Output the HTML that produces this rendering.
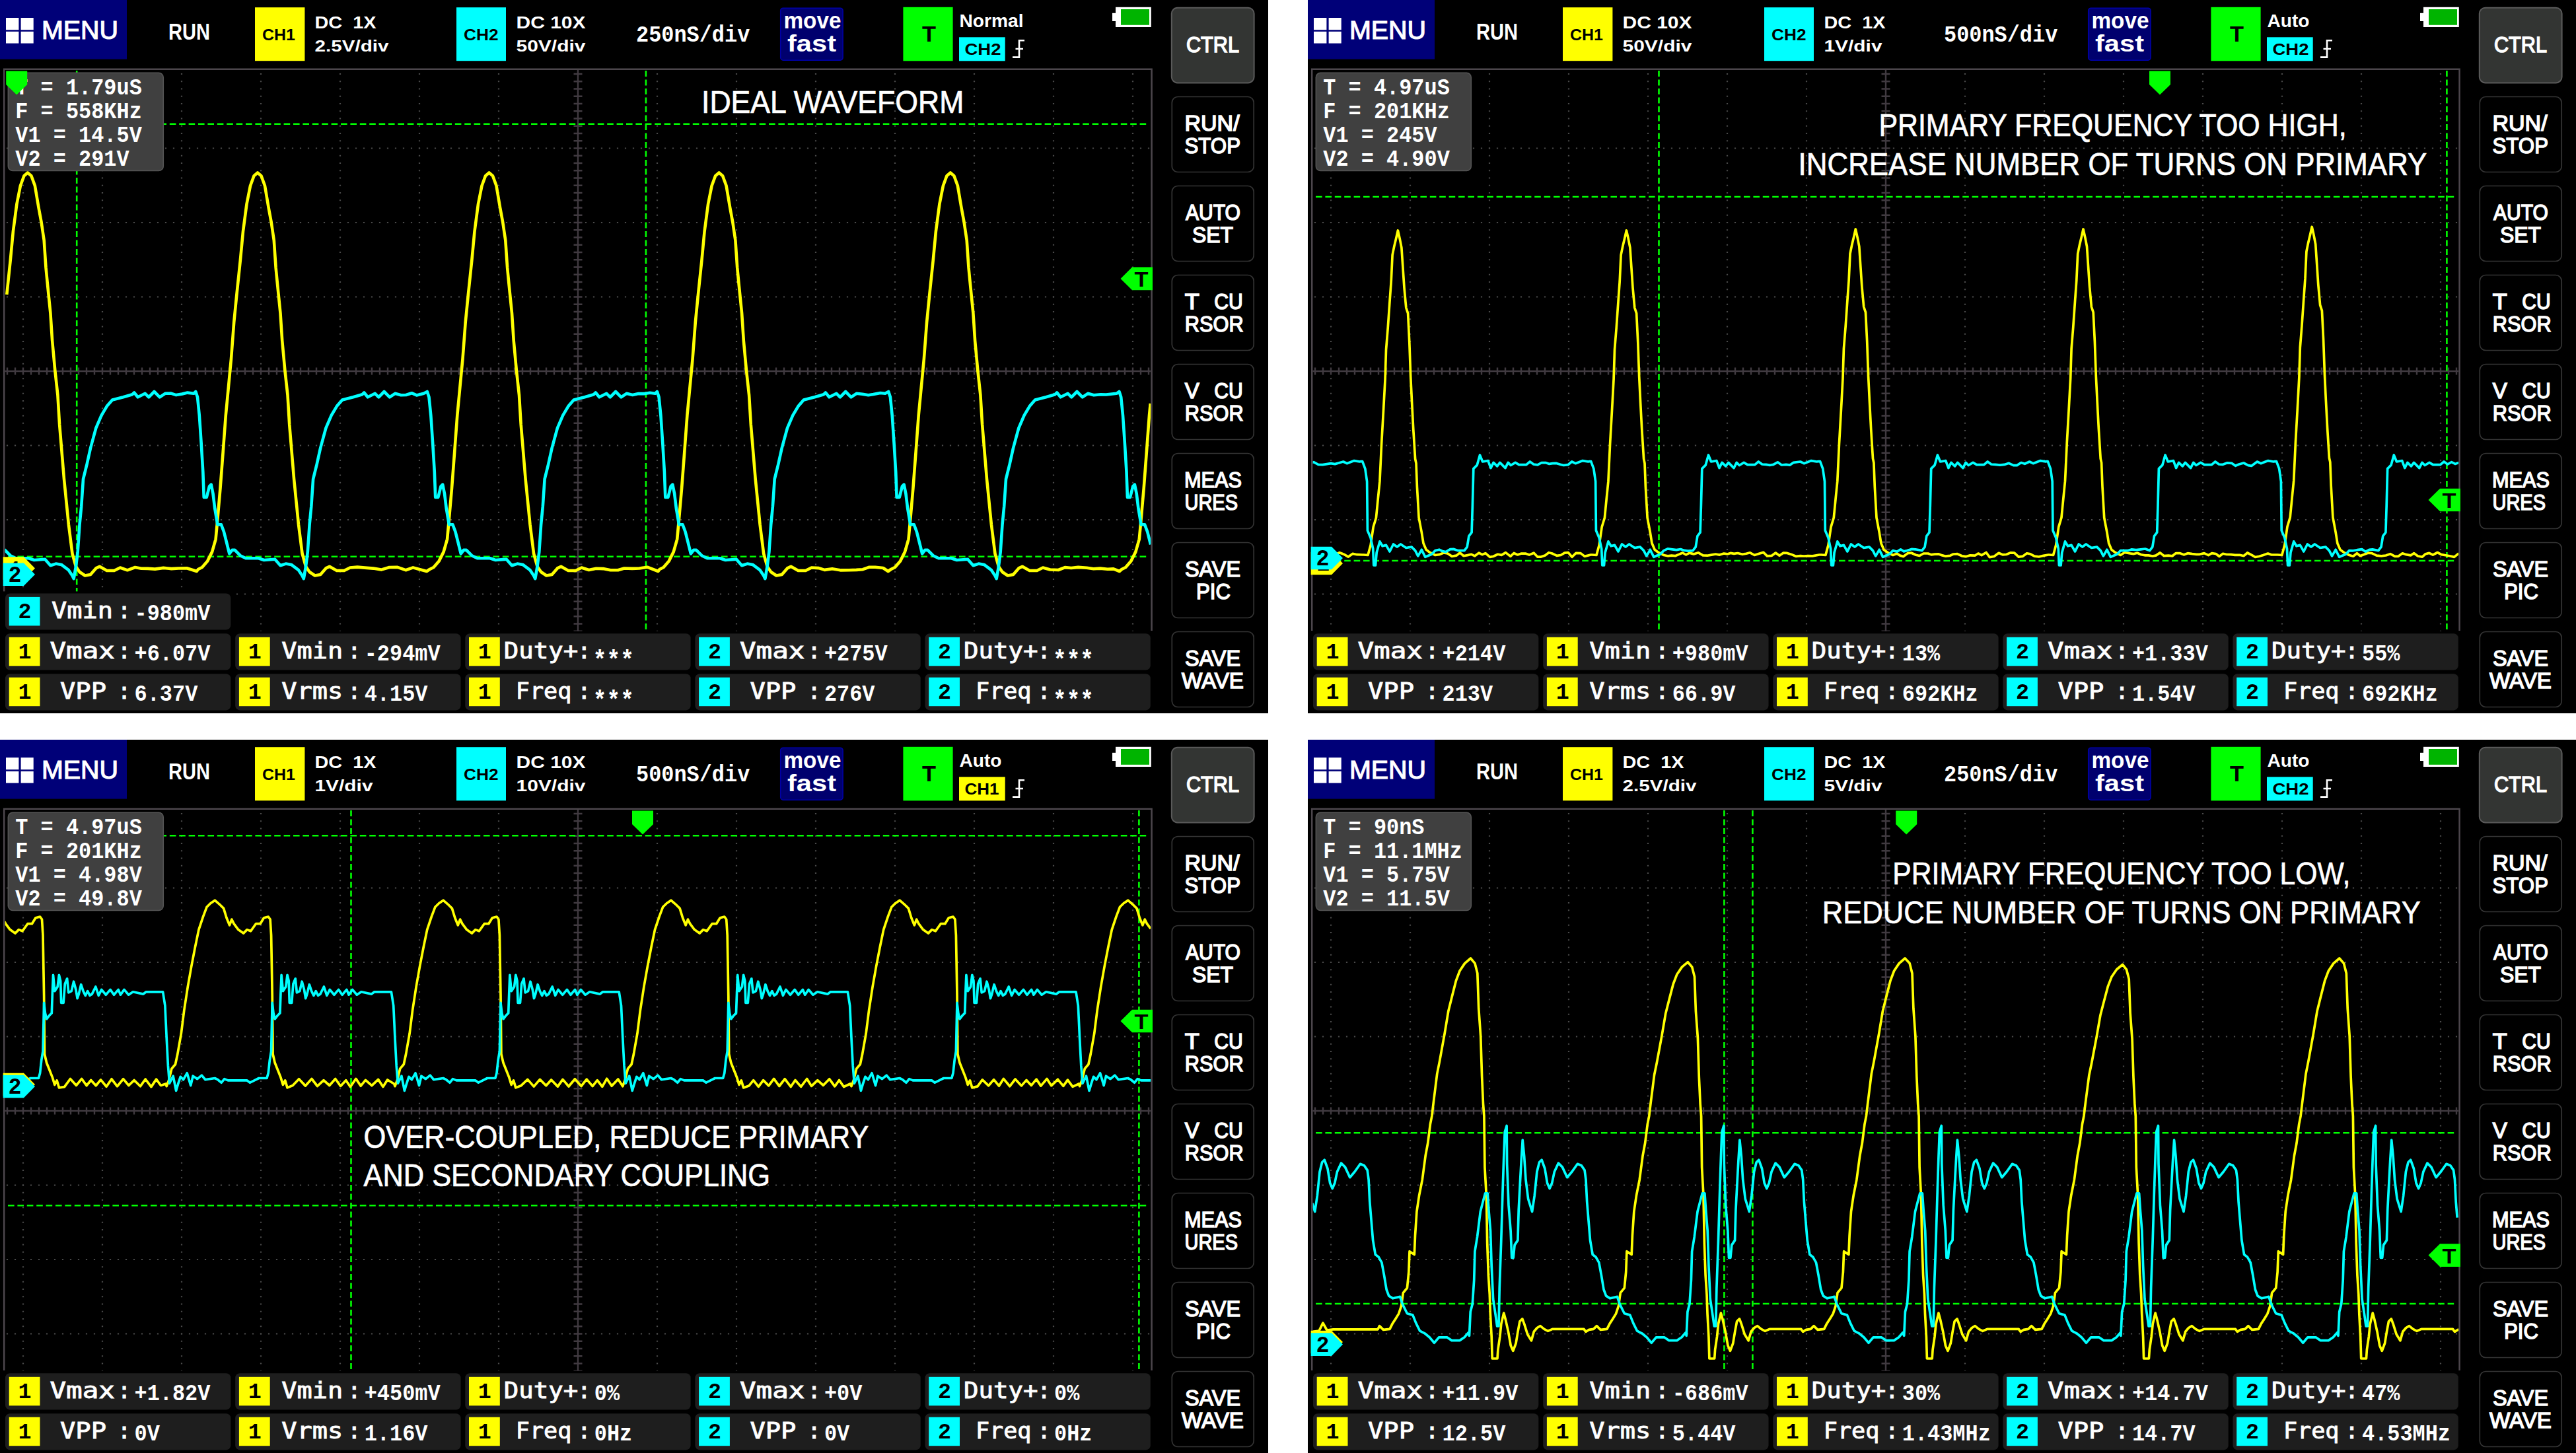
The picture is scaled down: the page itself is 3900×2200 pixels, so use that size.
<!DOCTYPE html>
<html><head><meta charset="utf-8"><title>Oscilloscope waveforms</title>
<style>html,body{margin:0;padding:0;background:#fff}svg{display:block}</style></head>
<body>
<svg width="3900" height="2200" viewBox="0 0 3900 2200">
<defs><clipPath id="plotclip"><rect x="7.4" y="105.9" width="1735" height="849.5"/></clipPath>
</defs>
<rect width="3900" height="2200" fill="#fff"/>
<g fill="#fff">
<g transform="translate(0,0)">
<rect x="0.0" y="0.0" width="1920.0" height="1080.0" fill="#000"/>
<g clip-path="url(#plotclip)">
<g><line x1="35" x2="35" y1="99.65" y2="960" stroke="#4a4a4a" stroke-width="2.2" stroke-dasharray="2.2 9.05"/><line x1="155" x2="155" y1="99.65" y2="960" stroke="#4a4a4a" stroke-width="2.2" stroke-dasharray="2.2 9.05"/><line x1="275" x2="275" y1="99.65" y2="960" stroke="#4a4a4a" stroke-width="2.2" stroke-dasharray="2.2 9.05"/><line x1="395" x2="395" y1="99.65" y2="960" stroke="#4a4a4a" stroke-width="2.2" stroke-dasharray="2.2 9.05"/><line x1="515" x2="515" y1="99.65" y2="960" stroke="#4a4a4a" stroke-width="2.2" stroke-dasharray="2.2 9.05"/><line x1="635" x2="635" y1="99.65" y2="960" stroke="#4a4a4a" stroke-width="2.2" stroke-dasharray="2.2 9.05"/><line x1="755" x2="755" y1="99.65" y2="960" stroke="#4a4a4a" stroke-width="2.2" stroke-dasharray="2.2 9.05"/><line x1="995" x2="995" y1="99.65" y2="960" stroke="#4a4a4a" stroke-width="2.2" stroke-dasharray="2.2 9.05"/><line x1="1115" x2="1115" y1="99.65" y2="960" stroke="#4a4a4a" stroke-width="2.2" stroke-dasharray="2.2 9.05"/><line x1="1235" x2="1235" y1="99.65" y2="960" stroke="#4a4a4a" stroke-width="2.2" stroke-dasharray="2.2 9.05"/><line x1="1355" x2="1355" y1="99.65" y2="960" stroke="#4a4a4a" stroke-width="2.2" stroke-dasharray="2.2 9.05"/><line x1="1475" x2="1475" y1="99.65" y2="960" stroke="#4a4a4a" stroke-width="2.2" stroke-dasharray="2.2 9.05"/><line x1="1595" x2="1595" y1="99.65" y2="960" stroke="#4a4a4a" stroke-width="2.2" stroke-dasharray="2.2 9.05"/><line x1="1715" x2="1715" y1="99.65" y2="960" stroke="#4a4a4a" stroke-width="2.2" stroke-dasharray="2.2 9.05"/><line y1="224.5" y2="224.5" x1="9.90" x2="1742" stroke="#4a4a4a" stroke-width="2.2" stroke-dasharray="2.2 9.8"/><line y1="337.0" y2="337.0" x1="9.90" x2="1742" stroke="#4a4a4a" stroke-width="2.2" stroke-dasharray="2.2 9.8"/><line y1="449.5" y2="449.5" x1="9.90" x2="1742" stroke="#4a4a4a" stroke-width="2.2" stroke-dasharray="2.2 9.8"/><line y1="674.5" y2="674.5" x1="9.90" x2="1742" stroke="#4a4a4a" stroke-width="2.2" stroke-dasharray="2.2 9.8"/><line y1="787.0" y2="787.0" x1="9.90" x2="1742" stroke="#4a4a4a" stroke-width="2.2" stroke-dasharray="2.2 9.8"/><line y1="899.5" y2="899.5" x1="9.90" x2="1742" stroke="#4a4a4a" stroke-width="2.2" stroke-dasharray="2.2 9.8"/><line x1="875" x2="875" y1="106" y2="956" stroke="#403a40" stroke-width="2.4"/><line y1="562" y2="562" x1="7" x2="1742" stroke="#403a40" stroke-width="2.4"/><line x1="875" x2="875" y1="99.55" y2="960" stroke="#403a40" stroke-width="13" stroke-dasharray="2.4 8.85"/><line y1="562" y2="562" x1="9.80" x2="1742" stroke="#403a40" stroke-width="11" stroke-dasharray="2.4 9.6"/></g>
<line x1="12" x2="1735.5" y1="187.8" y2="187.8" stroke="#00ff00" stroke-width="2.5" stroke-dasharray="9.6 4.8"/>
<line x1="12" x2="1735.5" y1="842.8" y2="842.8" stroke="#00ff00" stroke-width="2.5" stroke-dasharray="9.6 4.8"/>
<line x1="116.2" x2="116.2" y1="107" y2="956" stroke="#00ff00" stroke-width="2.6" stroke-dasharray="9 4.5"/>
<line x1="977.9" x2="977.9" y1="107" y2="956" stroke="#00ff00" stroke-width="2.6" stroke-dasharray="9 4.5"/>
<polyline points="10.5,443.8 15.7,394.4 19.9,350.3 25.4,308.9 30.9,281.3 36.4,266.2 41.9,261.5 47.4,266.2 52.9,281.3 58.5,314.4 62.6,336.5 66.7,364.0 69.5,405.4 72.2,433.0 76.4,474.3 79.1,515.6 83.3,561.0 87.4,598.3 90.1,642.7 97.0,725.4 103.9,794.3 109.5,838.4 114.9,857.7 120.5,866.0 128.7,871.5 137.0,870.0 145.3,860.4 150.8,857.7 161.8,864.0 172.9,864.0 181.9,859.5 192.9,863.3 204.5,859.0 213.9,860.8 223.8,860.9 234.7,861.6 247.4,859.9 259.5,861.1 270.3,860.5 282.8,860.3 297.9,865.0 300.0,862.0 306.0,859.0 314.2,849.4 321.1,835.6 326.6,816.3 329.4,786.0 333.5,739.2 337.7,684.0 341.8,628.9 345.9,586.0 350.0,543.2 354.2,488.0 358.3,446.7 363.8,394.4 368.0,350.3 373.5,308.9 379.0,281.3 384.5,266.2 390.0,261.5 395.5,266.2 401.0,281.3 406.6,314.4 410.7,336.5 414.8,364.0 417.6,405.4 420.3,433.0 424.5,474.3 427.2,515.6 431.4,561.0 435.5,598.3 438.2,642.7 445.1,725.4 452.0,794.3 457.6,838.4 463.0,857.7 468.6,866.0 476.8,871.5 485.1,870.0 493.4,860.4 498.9,857.7 509.9,864.0 521.0,864.0 530.0,859.5 541.0,858.6 552.4,859.6 565.2,860.6 577.1,862.6 589.4,859.0 601.2,858.7 614.2,863.2 625.3,859.4 635.8,862.3 646.0,865.0 650.5,862.0 656.5,859.0 664.7,849.4 671.6,835.6 677.1,816.3 679.9,786.0 684.0,739.2 688.2,684.0 692.3,628.9 696.4,586.0 700.5,543.2 704.7,488.0 708.8,446.7 714.3,394.4 718.5,350.3 724.0,308.9 729.5,281.3 735.0,266.2 740.5,261.5 746.0,266.2 751.5,281.3 757.1,314.4 761.2,336.5 765.3,364.0 768.1,405.4 770.8,433.0 775.0,474.3 777.7,515.6 781.9,561.0 786.0,598.3 788.7,642.7 795.6,725.4 802.5,794.3 808.1,838.4 813.5,857.7 819.1,866.0 827.3,871.5 835.6,870.0 843.9,860.4 849.4,857.7 860.4,864.0 871.5,864.0 880.5,859.5 891.5,863.0 902.6,860.8 913.1,861.1 924.3,863.3 935.6,863.2 945.0,860.5 957.0,860.9 968.0,860.5 980.0,858.7 996.5,865.0 998.6,862.0 1004.6,859.0 1012.8,849.4 1019.7,835.6 1025.2,816.3 1028.0,786.0 1032.1,739.2 1036.3,684.0 1040.4,628.9 1044.5,586.0 1048.6,543.2 1052.8,488.0 1056.9,446.7 1062.4,394.4 1066.6,350.3 1072.1,308.9 1077.6,281.3 1083.1,266.2 1088.6,261.5 1094.1,266.2 1099.6,281.3 1105.2,314.4 1109.3,336.5 1113.4,364.0 1116.2,405.4 1118.9,433.0 1123.1,474.3 1125.8,515.6 1130.0,561.0 1134.1,598.3 1136.8,642.7 1143.7,725.4 1150.6,794.3 1156.2,838.4 1161.6,857.7 1167.2,866.0 1175.4,871.5 1183.7,870.0 1192.0,860.4 1197.5,857.7 1208.5,864.0 1219.6,864.0 1228.6,859.5 1239.6,860.1 1248.4,862.9 1260.0,861.2 1273.1,863.4 1285.6,863.3 1296.5,862.9 1306.2,862.2 1315.5,858.8 1325.0,858.7 1337.1,860.0 1344.6,865.0 1348.9,862.0 1354.9,859.0 1363.1,849.4 1370.0,835.6 1375.5,816.3 1378.3,786.0 1382.4,739.2 1386.6,684.0 1390.7,628.9 1394.8,586.0 1398.9,543.2 1403.1,488.0 1407.2,446.7 1412.7,394.4 1416.9,350.3 1422.4,308.9 1427.9,281.3 1433.4,266.2 1438.9,261.5 1444.4,266.2 1449.9,281.3 1455.5,314.4 1459.6,336.5 1463.7,364.0 1466.5,405.4 1469.2,433.0 1473.4,474.3 1476.1,515.6 1480.3,561.0 1484.4,598.3 1487.1,642.7 1494.0,725.4 1500.9,794.3 1506.5,838.4 1511.9,857.7 1517.5,866.0 1525.7,871.5 1534.0,870.0 1542.3,860.4 1547.8,857.7 1558.8,864.0 1569.9,864.0 1578.9,859.5 1589.9,862.5 1602.3,863.0 1612.3,859.1 1621.9,860.0 1632.3,858.9 1645.4,859.7 1655.6,861.2 1665.6,860.6 1676.8,861.8 1685.8,861.4 1694.9,865.0 1698.2,862.0 1704.2,859.0 1712.4,849.4 1719.3,835.6 1724.8,816.3 1727.6,786.0 1731.7,739.2 1735.9,684.0 1740.0,628.9 1741.5,613.2" fill="none" stroke="#ffff00" stroke-width="4.6" stroke-linejoin="round" stroke-linecap="square"/><polyline points="8.3,833.7 15.7,841.2 24.0,845.3 43.3,845.3 51.6,848.0 68.1,846.7 76.4,856.3 84.6,853.6 92.9,854.9 103.9,863.2 109.4,871.5 111.7,876.2 114.9,857.7 117.7,835.6 120.5,794.3 123.2,766.7 126.0,725.4 131.5,703.3 137.0,678.5 145.3,648.2 153.6,628.9 161.8,615.1 170.1,605.5 186.6,601.3 200.4,597.2 203.2,594.5 208.7,601.3 219.7,595.8 225.2,601.3 233.5,593.0 241.8,601.3 250.0,595.8 259.0,595.6 266.7,598.1 275.9,596.5 283.8,594.6 293.4,595.8 296.3,593.0 299.0,601.3 301.8,628.9 304.6,670.2 307.3,714.4 308.7,753.0 312.8,753.0 317.0,736.4 319.7,733.6 322.5,747.4 325.2,769.5 329.4,794.3 334.9,794.3 339.0,805.3 343.2,821.9 347.3,838.4 351.4,832.9 355.6,832.9 363.8,841.2 372.1,845.3 391.4,845.3 399.7,848.0 416.2,846.7 424.5,856.3 432.7,853.6 441.0,854.9 452.0,863.2 457.5,871.5 459.8,876.2 463.0,857.7 465.8,835.6 468.6,794.3 471.3,766.7 474.1,725.4 479.6,703.3 485.1,678.5 493.4,648.2 501.7,628.9 509.9,615.1 518.2,605.5 534.7,601.3 548.5,597.2 551.3,594.5 556.8,601.3 567.8,595.8 573.3,601.3 581.6,593.0 589.9,601.3 598.1,595.8 607.1,598.2 614.7,598.0 623.3,595.2 630.7,598.4 641.5,595.8 646.8,593.0 649.5,601.3 652.3,628.9 655.1,670.2 657.8,714.4 659.2,753.0 663.3,753.0 667.5,736.4 670.2,733.6 673.0,747.4 675.7,769.5 679.9,794.3 685.4,794.3 689.5,805.3 693.7,821.9 697.8,838.4 701.9,832.9 706.1,832.9 714.3,841.2 722.6,845.3 741.9,845.3 750.2,848.0 766.7,846.7 775.0,856.3 783.2,853.6 791.5,854.9 802.5,863.2 808.0,871.5 810.3,876.2 813.5,857.7 816.3,835.6 819.1,794.3 821.8,766.7 824.6,725.4 830.1,703.3 835.6,678.5 843.9,648.2 852.2,628.9 860.4,615.1 868.7,605.5 885.2,601.3 899.0,597.2 901.8,594.5 907.3,601.3 918.3,595.8 923.8,601.3 932.1,593.0 940.4,601.3 948.6,595.8 957.6,597.9 966.6,596.0 975.9,596.1 983.9,594.7 992.0,595.8 994.9,593.0 997.6,601.3 1000.4,628.9 1003.2,670.2 1005.9,714.4 1007.3,753.0 1011.4,753.0 1015.6,736.4 1018.3,733.6 1021.1,747.4 1023.8,769.5 1028.0,794.3 1033.5,794.3 1037.6,805.3 1041.8,821.9 1045.9,838.4 1050.0,832.9 1054.2,832.9 1062.4,841.2 1070.7,845.3 1090.0,845.3 1098.3,848.0 1114.8,846.7 1123.1,856.3 1131.3,853.6 1139.6,854.9 1150.6,863.2 1156.1,871.5 1158.4,876.2 1161.6,857.7 1164.4,835.6 1167.2,794.3 1169.9,766.7 1172.7,725.4 1178.2,703.3 1183.7,678.5 1192.0,648.2 1200.3,628.9 1208.5,615.1 1216.8,605.5 1233.3,601.3 1247.1,597.2 1249.9,594.5 1255.4,601.3 1266.4,595.8 1271.9,601.3 1280.2,593.0 1288.5,601.3 1296.7,595.8 1305.7,596.7 1314.6,598.3 1322.4,597.0 1332.8,595.0 1340.1,595.8 1345.2,593.0 1347.9,601.3 1350.7,628.9 1353.5,670.2 1356.2,714.4 1357.6,753.0 1361.7,753.0 1365.9,736.4 1368.6,733.6 1371.4,747.4 1374.1,769.5 1378.3,794.3 1383.8,794.3 1387.9,805.3 1392.1,821.9 1396.2,838.4 1400.3,832.9 1404.5,832.9 1412.7,841.2 1421.0,845.3 1440.3,845.3 1448.6,848.0 1465.1,846.7 1473.4,856.3 1481.6,853.6 1489.9,854.9 1500.9,863.2 1506.4,871.5 1508.7,876.2 1511.9,857.7 1514.7,835.6 1517.5,794.3 1520.2,766.7 1523.0,725.4 1528.5,703.3 1534.0,678.5 1542.3,648.2 1550.6,628.9 1558.8,615.1 1567.1,605.5 1583.6,601.3 1597.4,597.2 1600.2,594.5 1605.7,601.3 1616.7,595.8 1622.2,601.3 1630.5,593.0 1638.8,601.3 1647.0,595.8 1656.0,598.3 1666.3,597.2 1674.6,597.5 1690.4,595.8 1694.5,593.0 1697.2,601.3 1700.0,628.9 1702.8,670.2 1705.5,714.4 1706.9,753.0 1711.0,753.0 1715.2,736.4 1717.9,733.6 1720.7,747.4 1723.4,769.5 1727.6,794.3 1733.1,794.3 1737.2,805.3 1741.4,821.9 1741.5,822.3" fill="none" stroke="#00ffff" stroke-width="4.6" stroke-linejoin="round" stroke-linecap="square"/>
</g>
<path d="M6.2,955 V104.7 H1743.6 V955" fill="none" stroke="#4c464c" stroke-width="2.5"/>
<path d="M4.7,843.2 H36 L53,860.5 L36,877.8 H4.7 Z" fill="#ffff00"/>
<text x="13.0" y="871.5" font-family="'Liberation Mono', monospace" font-size="33.40" font-weight="bold" fill="#000" xml:space="preserve">1</text>
<path d="M4.7,852.5 H36 L53,869.8 L36,887.0999999999999 H4.7 Z" fill="#00ffff"/>
<text x="12.5" y="880.8" font-family="'Liberation Mono', monospace" font-size="34.16" font-weight="bold" fill="#000" textLength="20.0" lengthAdjust="spacingAndGlyphs" xml:space="preserve">2</text>
<path d="M1745,404.59999999999997 H1714 L1696.5,421.9 L1714,439.2 H1745 Z" fill="#00ff00"/>
<text x="1717.5" y="433.9" font-family="'Liberation Sans', sans-serif" font-size="32.27" font-weight="bold" fill="#000" textLength="21.0" lengthAdjust="spacingAndGlyphs" xml:space="preserve">T</text>
<rect x="12.3" y="110.3" width="235.0" height="148.3" fill="#404040" rx="7" stroke="#555" stroke-width="1.5"/>
<text x="23.3" y="142.5" font-family="'Liberation Mono', monospace" font-size="34.92" font-weight="bold" textLength="191.5" lengthAdjust="spacingAndGlyphs" xml:space="preserve">T = 1.79uS</text>
<text x="23.3" y="178.5" font-family="'Liberation Mono', monospace" font-size="34.92" font-weight="bold" textLength="191.5" lengthAdjust="spacingAndGlyphs" xml:space="preserve">F = 558KHz</text>
<text x="23.3" y="214.5" font-family="'Liberation Mono', monospace" font-size="34.92" font-weight="bold" textLength="191.5" lengthAdjust="spacingAndGlyphs" xml:space="preserve">V1 = 14.5V</text>
<text x="23.3" y="250.5" font-family="'Liberation Mono', monospace" font-size="34.92" font-weight="bold" textLength="172.3" lengthAdjust="spacingAndGlyphs" xml:space="preserve">V2 = 291V</text>
<path d="M9.2,107.5 H41.2 V128 L25.2,143.6 L9.2,128 Z" fill="#00ff00"/>
<text x="1062.0" y="171.2" font-family="'Liberation Sans', sans-serif" font-size="47.38" textLength="397.4" lengthAdjust="spacingAndGlyphs" stroke="#fff" stroke-width="0.7" xml:space="preserve">IDEAL WAVEFORM</text>
<rect x="0.0" y="0.0" width="192.0" height="89.6" fill="#000078"/>
<rect x="9.0" y="27.0" width="19.4" height="18.2" fill="#fff"/>
<rect x="9.0" y="47.8" width="19.4" height="17.8" fill="#fff"/>
<rect x="31.6" y="27.0" width="19.1" height="18.2" fill="#fff"/>
<rect x="31.6" y="47.8" width="19.1" height="17.8" fill="#fff"/>
<text x="63.0" y="58.7" font-family="'Liberation Sans', sans-serif" font-size="39.24" textLength="116.0" lengthAdjust="spacingAndGlyphs" stroke="#fff" stroke-width="1.2" xml:space="preserve">MENU</text>
<text x="255.0" y="60.3" font-family="'Liberation Sans', sans-serif" font-size="34.88" font-weight="bold" textLength="63.0" lengthAdjust="spacingAndGlyphs" xml:space="preserve">RUN</text>
<rect x="386.0" y="11.2" width="75.4" height="81.0" fill="#ffff00"/>
<text x="397.0" y="60.5" font-family="'Liberation Sans', sans-serif" font-size="24.27" font-weight="bold" fill="#000" textLength="50.0" lengthAdjust="spacingAndGlyphs" xml:space="preserve">CH1</text>
<text x="476.5" y="43.0" font-family="'Liberation Sans', sans-serif" font-size="26.16" font-weight="bold" textLength="93.0" lengthAdjust="spacingAndGlyphs" xml:space="preserve">DC  1X</text>
<text x="476.5" y="78.3" font-family="'Liberation Sans', sans-serif" font-size="24.42" font-weight="bold" textLength="112.0" lengthAdjust="spacingAndGlyphs" xml:space="preserve">2.5V/div</text>
<rect x="691.0" y="11.2" width="75.0" height="81.0" fill="#00ffff"/>
<text x="702.0" y="60.5" font-family="'Liberation Sans', sans-serif" font-size="24.27" font-weight="bold" fill="#000" textLength="52.5" lengthAdjust="spacingAndGlyphs" xml:space="preserve">CH2</text>
<text x="781.5" y="43.0" font-family="'Liberation Sans', sans-serif" font-size="26.16" font-weight="bold" textLength="105.0" lengthAdjust="spacingAndGlyphs" xml:space="preserve">DC 10X</text>
<text x="781.5" y="78.3" font-family="'Liberation Sans', sans-serif" font-size="24.42" font-weight="bold" textLength="105.0" lengthAdjust="spacingAndGlyphs" xml:space="preserve">50V/div</text>
<text x="963.0" y="63.0" font-family="'Liberation Mono', monospace" font-size="34.92" font-weight="bold" textLength="172.3" lengthAdjust="spacingAndGlyphs" xml:space="preserve">250nS/div</text>
<rect x="1181.7" y="12.2" width="94.4" height="79.0" fill="#00006e" rx="4" stroke="#0000a8" stroke-width="1.5"/>
<text x="1186.5" y="43.0" font-family="'Liberation Sans', sans-serif" font-size="34.30" font-weight="bold" textLength="87.0" lengthAdjust="spacingAndGlyphs" xml:space="preserve">move</text>
<text x="1192.0" y="78.0" font-family="'Liberation Sans', sans-serif" font-size="34.30" font-weight="bold" textLength="74.0" lengthAdjust="spacingAndGlyphs" xml:space="preserve">fast</text>
<rect x="1367.4" y="10.8" width="75.2" height="81.5" fill="#00ff00"/>
<text x="1396.0" y="63.0" font-family="'Liberation Sans', sans-serif" font-size="32.70" font-weight="bold" fill="#000" textLength="21.0" lengthAdjust="spacingAndGlyphs" xml:space="preserve">T</text>
<text x="1452.5" y="41.0" font-family="'Liberation Sans', sans-serif" font-size="28.49" font-weight="bold" textLength="97.0" lengthAdjust="spacingAndGlyphs" xml:space="preserve">Normal</text>
<rect x="1452.0" y="56.3" width="69.7" height="36.0" fill="#00ffff"/>
<text x="1460.5" y="83.4" font-family="'Liberation Sans', sans-serif" font-size="24.71" font-weight="bold" fill="#000" textLength="55.0" lengthAdjust="spacingAndGlyphs" xml:space="preserve">CH2</text>
<path d="M1551,61.2 H1543 V86.6 H1533 M1537.5,74 H1549" fill="none" stroke="#fff" stroke-width="2.6"/>
<rect x="1684.0" y="19.8" width="6.0" height="12.2" fill="#fff"/>
<rect x="1689.0" y="10.8" width="53.8" height="30.2" fill="#fff"/>
<rect x="1697.0" y="14.0" width="43.0" height="23.8" fill="#00b400"/>
<rect x="1773.8" y="11.7" width="124.8" height="113.7" fill="#333533" rx="9" stroke="#5a5a5a" stroke-width="2"/>
<text x="1796.0" y="78.8" font-family="'Liberation Sans', sans-serif" font-size="32.70" textLength="80.0" lengthAdjust="spacingAndGlyphs" stroke="#fff" stroke-width="1.5" xml:space="preserve">CTRL</text>
<rect x="1774.3" y="146.5" width="123.9" height="114.0" fill="#000" rx="9" stroke="#343434" stroke-width="1.7"/>
<text x="1793.5" y="198.0" font-family="'Liberation Sans', sans-serif" font-size="32.70" textLength="83.1" lengthAdjust="spacingAndGlyphs" stroke="#fff" stroke-width="1.5" xml:space="preserve">RUN/</text>
<text x="1793.5" y="231.5" font-family="'Liberation Sans', sans-serif" font-size="32.70" textLength="84.5" lengthAdjust="spacingAndGlyphs" stroke="#fff" stroke-width="1.5" xml:space="preserve">STOP</text>
<rect x="1774.3" y="281.5" width="123.9" height="114.0" fill="#000" rx="9" stroke="#343434" stroke-width="1.7"/>
<text x="1795.0" y="333.0" font-family="'Liberation Sans', sans-serif" font-size="32.70" textLength="83.0" lengthAdjust="spacingAndGlyphs" stroke="#fff" stroke-width="1.5" xml:space="preserve">AUTO</text>
<text x="1805.0" y="366.5" font-family="'Liberation Sans', sans-serif" font-size="32.70" textLength="62.0" lengthAdjust="spacingAndGlyphs" stroke="#fff" stroke-width="1.5" xml:space="preserve">SET</text>
<rect x="1774.3" y="416.5" width="123.9" height="114.0" fill="#000" rx="9" stroke="#343434" stroke-width="1.7"/>
<text y="468.0" font-family="'Liberation Sans', sans-serif" font-size="32.70" stroke="#fff" stroke-width="1.5" xml:space="preserve"><tspan x="1793.8" textLength="22" lengthAdjust="spacingAndGlyphs">T</tspan><tspan x="1831" textLength="6" lengthAdjust="spacingAndGlyphs">  </tspan><tspan x="1838.3" textLength="43.5" lengthAdjust="spacingAndGlyphs">CU</tspan></text>
<text x="1793.8" y="501.5" font-family="'Liberation Sans', sans-serif" font-size="32.70" textLength="88.8" lengthAdjust="spacingAndGlyphs" stroke="#fff" stroke-width="1.5" xml:space="preserve">RSOR</text>
<rect x="1774.3" y="551.5" width="123.9" height="114.0" fill="#000" rx="9" stroke="#343434" stroke-width="1.7"/>
<text y="603.0" font-family="'Liberation Sans', sans-serif" font-size="32.70" stroke="#fff" stroke-width="1.5" xml:space="preserve"><tspan x="1793.8" textLength="22" lengthAdjust="spacingAndGlyphs">V</tspan><tspan x="1831" textLength="6" lengthAdjust="spacingAndGlyphs">  </tspan><tspan x="1838.3" textLength="43.5" lengthAdjust="spacingAndGlyphs">CU</tspan></text>
<text x="1793.8" y="636.5" font-family="'Liberation Sans', sans-serif" font-size="32.70" textLength="88.8" lengthAdjust="spacingAndGlyphs" stroke="#fff" stroke-width="1.5" xml:space="preserve">RSOR</text>
<rect x="1774.3" y="686.5" width="123.9" height="114.0" fill="#000" rx="9" stroke="#343434" stroke-width="1.7"/>
<text x="1793.0" y="738.0" font-family="'Liberation Sans', sans-serif" font-size="32.70" textLength="87.0" lengthAdjust="spacingAndGlyphs" stroke="#fff" stroke-width="1.5" xml:space="preserve">MEAS</text>
<text x="1793.5" y="771.5" font-family="'Liberation Sans', sans-serif" font-size="32.70" textLength="80.5" lengthAdjust="spacingAndGlyphs" stroke="#fff" stroke-width="1.5" xml:space="preserve">URES</text>
<rect x="1774.3" y="821.5" width="123.9" height="114.0" fill="#000" rx="9" stroke="#343434" stroke-width="1.7"/>
<text x="1794.0" y="873.0" font-family="'Liberation Sans', sans-serif" font-size="32.70" textLength="84.0" lengthAdjust="spacingAndGlyphs" stroke="#fff" stroke-width="1.5" xml:space="preserve">SAVE</text>
<text x="1811.0" y="906.5" font-family="'Liberation Sans', sans-serif" font-size="32.70" textLength="52.0" lengthAdjust="spacingAndGlyphs" stroke="#fff" stroke-width="1.5" xml:space="preserve">PIC</text>
<rect x="1774.3" y="956.5" width="123.9" height="114.0" fill="#000" rx="9" stroke="#343434" stroke-width="1.7"/>
<text x="1794.0" y="1008.0" font-family="'Liberation Sans', sans-serif" font-size="32.70" textLength="84.0" lengthAdjust="spacingAndGlyphs" stroke="#fff" stroke-width="1.5" xml:space="preserve">SAVE</text>
<text x="1789.0" y="1041.5" font-family="'Liberation Sans', sans-serif" font-size="32.70" textLength="94.0" lengthAdjust="spacingAndGlyphs" stroke="#fff" stroke-width="1.5" xml:space="preserve">WAVE</text>
<rect x="0.0" y="895.4" width="356.0" height="63.0" fill="#000"/>
<rect x="8.0" y="898.4" width="341.3" height="55.2" fill="#1e1e1e" rx="7"/>
<rect x="13.7" y="903.9" width="46.8" height="43.5" fill="#00ffff"/>
<text x="27.5" y="936.2" font-family="'Liberation Mono', monospace" font-size="33.40" font-weight="bold" fill="#000" textLength="20.0" lengthAdjust="spacingAndGlyphs" xml:space="preserve">2</text>
<text y="936.4" font-family="'DejaVu Sans Mono', 'Liberation Mono', monospace" font-size="34.29" stroke="#fff" stroke-width="0.9" xml:space="preserve"><tspan x="78.0" textLength="93.0" lengthAdjust="spacingAndGlyphs">Vmin</tspan><tspan x="177.8">:</tspan></text>
<text x="203.5" y="938.7" font-family="'Liberation Mono', monospace" font-size="34.92" font-weight="bold" textLength="114.9" lengthAdjust="spacingAndGlyphs" xml:space="preserve">-980mV</text>
<rect x="8.0" y="959.3" width="341.3" height="55.2" fill="#1e1e1e" rx="7"/>
<rect x="13.7" y="964.8" width="46.8" height="43.5" fill="#ffff00"/>
<text x="27.5" y="997.1" font-family="'Liberation Mono', monospace" font-size="33.40" font-weight="bold" fill="#000" textLength="20.0" lengthAdjust="spacingAndGlyphs" xml:space="preserve">1</text>
<text y="997.3" font-family="'DejaVu Sans Mono', 'Liberation Mono', monospace" font-size="34.29" stroke="#fff" stroke-width="0.9" xml:space="preserve"><tspan x="75.5" textLength="98.5" lengthAdjust="spacingAndGlyphs">Vmax</tspan><tspan x="177.8">:</tspan></text>
<text x="203.5" y="999.6" font-family="'Liberation Mono', monospace" font-size="34.92" font-weight="bold" textLength="114.9" lengthAdjust="spacingAndGlyphs" xml:space="preserve">+6.07V</text>
<rect x="8.0" y="1020.2" width="341.3" height="55.2" fill="#1e1e1e" rx="7"/>
<rect x="13.7" y="1025.7" width="46.8" height="43.5" fill="#ffff00"/>
<text x="27.5" y="1058.0" font-family="'Liberation Mono', monospace" font-size="33.40" font-weight="bold" fill="#000" textLength="20.0" lengthAdjust="spacingAndGlyphs" xml:space="preserve">1</text>
<text y="1058.2" font-family="'DejaVu Sans Mono', 'Liberation Mono', monospace" font-size="34.29" stroke="#fff" stroke-width="0.9" xml:space="preserve"><tspan x="91.0" textLength="70.0" lengthAdjust="spacingAndGlyphs">VPP</tspan><tspan x="171.0" textLength="6.8" lengthAdjust="spacingAndGlyphs"> </tspan><tspan x="177.8">:</tspan></text>
<text x="203.5" y="1060.5" font-family="'Liberation Mono', monospace" font-size="34.92" font-weight="bold" textLength="95.8" lengthAdjust="spacingAndGlyphs" xml:space="preserve">6.37V</text>
<rect x="356.2" y="959.3" width="341.3" height="55.2" fill="#1e1e1e" rx="7"/>
<rect x="361.9" y="964.8" width="46.8" height="43.5" fill="#ffff00"/>
<text x="375.7" y="997.1" font-family="'Liberation Mono', monospace" font-size="33.40" font-weight="bold" fill="#000" textLength="20.0" lengthAdjust="spacingAndGlyphs" xml:space="preserve">1</text>
<text y="997.3" font-family="'DejaVu Sans Mono', 'Liberation Mono', monospace" font-size="34.29" stroke="#fff" stroke-width="0.9" xml:space="preserve"><tspan x="426.2" textLength="93.0" lengthAdjust="spacingAndGlyphs">Vmin</tspan><tspan x="526.0">:</tspan></text>
<text x="551.7" y="999.6" font-family="'Liberation Mono', monospace" font-size="34.92" font-weight="bold" textLength="114.9" lengthAdjust="spacingAndGlyphs" xml:space="preserve">-294mV</text>
<rect x="356.2" y="1020.2" width="341.3" height="55.2" fill="#1e1e1e" rx="7"/>
<rect x="361.9" y="1025.7" width="46.8" height="43.5" fill="#ffff00"/>
<text x="375.7" y="1058.0" font-family="'Liberation Mono', monospace" font-size="33.40" font-weight="bold" fill="#000" textLength="20.0" lengthAdjust="spacingAndGlyphs" xml:space="preserve">1</text>
<text y="1058.2" font-family="'DejaVu Sans Mono', 'Liberation Mono', monospace" font-size="34.29" stroke="#fff" stroke-width="0.9" xml:space="preserve"><tspan x="426.2" textLength="93.0" lengthAdjust="spacingAndGlyphs">Vrms</tspan><tspan x="526.0">:</tspan></text>
<text x="551.7" y="1060.5" font-family="'Liberation Mono', monospace" font-size="34.92" font-weight="bold" textLength="95.8" lengthAdjust="spacingAndGlyphs" xml:space="preserve">4.15V</text>
<rect x="704.3" y="959.3" width="341.3" height="55.2" fill="#1e1e1e" rx="7"/>
<rect x="710.0" y="964.8" width="46.8" height="43.5" fill="#ffff00"/>
<text x="723.8" y="997.1" font-family="'Liberation Mono', monospace" font-size="33.40" font-weight="bold" fill="#000" textLength="20.0" lengthAdjust="spacingAndGlyphs" xml:space="preserve">1</text>
<text y="997.3" font-family="'DejaVu Sans Mono', 'Liberation Mono', monospace" font-size="34.29" stroke="#fff" stroke-width="0.9" xml:space="preserve"><tspan x="762.8" textLength="112.5" lengthAdjust="spacingAndGlyphs">Duty+</tspan><tspan x="874.1">:</tspan></text>
<text x="897.8" y="1010.8" font-family="'Liberation Mono', monospace" font-size="39.47" font-weight="bold" textLength="62.0" lengthAdjust="spacingAndGlyphs" xml:space="preserve">***</text>
<rect x="704.3" y="1020.2" width="341.3" height="55.2" fill="#1e1e1e" rx="7"/>
<rect x="710.0" y="1025.7" width="46.8" height="43.5" fill="#ffff00"/>
<text x="723.8" y="1058.0" font-family="'Liberation Mono', monospace" font-size="33.40" font-weight="bold" fill="#000" textLength="20.0" lengthAdjust="spacingAndGlyphs" xml:space="preserve">1</text>
<text y="1058.2" font-family="'DejaVu Sans Mono', 'Liberation Mono', monospace" font-size="34.29" stroke="#fff" stroke-width="0.9" xml:space="preserve"><tspan x="780.8" textLength="84.5" lengthAdjust="spacingAndGlyphs">Freq</tspan><tspan x="874.1">:</tspan></text>
<text x="897.8" y="1071.7" font-family="'Liberation Mono', monospace" font-size="39.47" font-weight="bold" textLength="62.0" lengthAdjust="spacingAndGlyphs" xml:space="preserve">***</text>
<rect x="1052.4" y="959.3" width="341.3" height="55.2" fill="#1e1e1e" rx="7"/>
<rect x="1058.1" y="964.8" width="46.8" height="43.5" fill="#00ffff"/>
<text x="1071.9" y="997.1" font-family="'Liberation Mono', monospace" font-size="33.40" font-weight="bold" fill="#000" textLength="20.0" lengthAdjust="spacingAndGlyphs" xml:space="preserve">2</text>
<text y="997.3" font-family="'DejaVu Sans Mono', 'Liberation Mono', monospace" font-size="34.29" stroke="#fff" stroke-width="0.9" xml:space="preserve"><tspan x="1119.9" textLength="98.5" lengthAdjust="spacingAndGlyphs">Vmax</tspan><tspan x="1222.2">:</tspan></text>
<text x="1247.9" y="999.6" font-family="'Liberation Mono', monospace" font-size="34.92" font-weight="bold" textLength="95.8" lengthAdjust="spacingAndGlyphs" xml:space="preserve">+275V</text>
<rect x="1052.4" y="1020.2" width="341.3" height="55.2" fill="#1e1e1e" rx="7"/>
<rect x="1058.1" y="1025.7" width="46.8" height="43.5" fill="#00ffff"/>
<text x="1071.9" y="1058.0" font-family="'Liberation Mono', monospace" font-size="33.40" font-weight="bold" fill="#000" textLength="20.0" lengthAdjust="spacingAndGlyphs" xml:space="preserve">2</text>
<text y="1058.2" font-family="'DejaVu Sans Mono', 'Liberation Mono', monospace" font-size="34.29" stroke="#fff" stroke-width="0.9" xml:space="preserve"><tspan x="1135.4" textLength="70.0" lengthAdjust="spacingAndGlyphs">VPP</tspan><tspan x="1215.4" textLength="6.8" lengthAdjust="spacingAndGlyphs"> </tspan><tspan x="1222.2">:</tspan></text>
<text x="1247.9" y="1060.5" font-family="'Liberation Mono', monospace" font-size="34.92" font-weight="bold" textLength="76.6" lengthAdjust="spacingAndGlyphs" xml:space="preserve">276V</text>
<rect x="1400.5" y="959.3" width="341.3" height="55.2" fill="#1e1e1e" rx="7"/>
<rect x="1406.2" y="964.8" width="46.8" height="43.5" fill="#00ffff"/>
<text x="1420.0" y="997.1" font-family="'Liberation Mono', monospace" font-size="33.40" font-weight="bold" fill="#000" textLength="20.0" lengthAdjust="spacingAndGlyphs" xml:space="preserve">2</text>
<text y="997.3" font-family="'DejaVu Sans Mono', 'Liberation Mono', monospace" font-size="34.29" stroke="#fff" stroke-width="0.9" xml:space="preserve"><tspan x="1459.0" textLength="112.5" lengthAdjust="spacingAndGlyphs">Duty+</tspan><tspan x="1570.3">:</tspan></text>
<text x="1594.0" y="1010.8" font-family="'Liberation Mono', monospace" font-size="39.47" font-weight="bold" textLength="62.0" lengthAdjust="spacingAndGlyphs" xml:space="preserve">***</text>
<rect x="1400.5" y="1020.2" width="341.3" height="55.2" fill="#1e1e1e" rx="7"/>
<rect x="1406.2" y="1025.7" width="46.8" height="43.5" fill="#00ffff"/>
<text x="1420.0" y="1058.0" font-family="'Liberation Mono', monospace" font-size="33.40" font-weight="bold" fill="#000" textLength="20.0" lengthAdjust="spacingAndGlyphs" xml:space="preserve">2</text>
<text y="1058.2" font-family="'DejaVu Sans Mono', 'Liberation Mono', monospace" font-size="34.29" stroke="#fff" stroke-width="0.9" xml:space="preserve"><tspan x="1477.0" textLength="84.5" lengthAdjust="spacingAndGlyphs">Freq</tspan><tspan x="1570.3">:</tspan></text>
<text x="1594.0" y="1071.7" font-family="'Liberation Mono', monospace" font-size="39.47" font-weight="bold" textLength="62.0" lengthAdjust="spacingAndGlyphs" xml:space="preserve">***</text>
</g>
<g transform="translate(1980,0)">
<rect x="0.0" y="0.0" width="1920.0" height="1080.0" fill="#000"/>
<g clip-path="url(#plotclip)">
<g><line x1="35" x2="35" y1="99.65" y2="960" stroke="#4a4a4a" stroke-width="2.2" stroke-dasharray="2.2 9.05"/><line x1="155" x2="155" y1="99.65" y2="960" stroke="#4a4a4a" stroke-width="2.2" stroke-dasharray="2.2 9.05"/><line x1="275" x2="275" y1="99.65" y2="960" stroke="#4a4a4a" stroke-width="2.2" stroke-dasharray="2.2 9.05"/><line x1="395" x2="395" y1="99.65" y2="960" stroke="#4a4a4a" stroke-width="2.2" stroke-dasharray="2.2 9.05"/><line x1="515" x2="515" y1="99.65" y2="960" stroke="#4a4a4a" stroke-width="2.2" stroke-dasharray="2.2 9.05"/><line x1="635" x2="635" y1="99.65" y2="960" stroke="#4a4a4a" stroke-width="2.2" stroke-dasharray="2.2 9.05"/><line x1="755" x2="755" y1="99.65" y2="960" stroke="#4a4a4a" stroke-width="2.2" stroke-dasharray="2.2 9.05"/><line x1="995" x2="995" y1="99.65" y2="960" stroke="#4a4a4a" stroke-width="2.2" stroke-dasharray="2.2 9.05"/><line x1="1115" x2="1115" y1="99.65" y2="960" stroke="#4a4a4a" stroke-width="2.2" stroke-dasharray="2.2 9.05"/><line x1="1235" x2="1235" y1="99.65" y2="960" stroke="#4a4a4a" stroke-width="2.2" stroke-dasharray="2.2 9.05"/><line x1="1355" x2="1355" y1="99.65" y2="960" stroke="#4a4a4a" stroke-width="2.2" stroke-dasharray="2.2 9.05"/><line x1="1475" x2="1475" y1="99.65" y2="960" stroke="#4a4a4a" stroke-width="2.2" stroke-dasharray="2.2 9.05"/><line x1="1595" x2="1595" y1="99.65" y2="960" stroke="#4a4a4a" stroke-width="2.2" stroke-dasharray="2.2 9.05"/><line x1="1715" x2="1715" y1="99.65" y2="960" stroke="#4a4a4a" stroke-width="2.2" stroke-dasharray="2.2 9.05"/><line y1="224.5" y2="224.5" x1="9.90" x2="1742" stroke="#4a4a4a" stroke-width="2.2" stroke-dasharray="2.2 9.8"/><line y1="337.0" y2="337.0" x1="9.90" x2="1742" stroke="#4a4a4a" stroke-width="2.2" stroke-dasharray="2.2 9.8"/><line y1="449.5" y2="449.5" x1="9.90" x2="1742" stroke="#4a4a4a" stroke-width="2.2" stroke-dasharray="2.2 9.8"/><line y1="674.5" y2="674.5" x1="9.90" x2="1742" stroke="#4a4a4a" stroke-width="2.2" stroke-dasharray="2.2 9.8"/><line y1="787.0" y2="787.0" x1="9.90" x2="1742" stroke="#4a4a4a" stroke-width="2.2" stroke-dasharray="2.2 9.8"/><line y1="899.5" y2="899.5" x1="9.90" x2="1742" stroke="#4a4a4a" stroke-width="2.2" stroke-dasharray="2.2 9.8"/><line x1="875" x2="875" y1="106" y2="956" stroke="#403a40" stroke-width="2.4"/><line y1="562" y2="562" x1="7" x2="1742" stroke="#403a40" stroke-width="2.4"/><line x1="875" x2="875" y1="99.55" y2="960" stroke="#403a40" stroke-width="13" stroke-dasharray="2.4 8.85"/><line y1="562" y2="562" x1="9.80" x2="1742" stroke="#403a40" stroke-width="11" stroke-dasharray="2.4 9.6"/></g>
<line x1="12" x2="1735.5" y1="297.9" y2="297.9" stroke="#00ff00" stroke-width="2.5" stroke-dasharray="9.6 4.8"/>
<line x1="12" x2="1735.5" y1="848.9" y2="848.9" stroke="#00ff00" stroke-width="2.5" stroke-dasharray="9.6 4.8"/>
<line x1="531.5" x2="531.5" y1="107" y2="956" stroke="#00ff00" stroke-width="2.6" stroke-dasharray="9 4.5"/>
<line x1="1724.4" x2="1724.4" y1="107" y2="956" stroke="#00ff00" stroke-width="2.6" stroke-dasharray="9 4.5"/>
<polyline points="8.0,838.9 13.7,842.9 18.6,836.9 24.0,843.4 29.3,838.3 35.1,842.3 41.0,839.9 48.0,836.7 54.9,839.4 61.3,843.1 67.8,838.4 74.5,839.7 82.4,840.0 84.4,840.0 91.0,840.5 95.1,825.4 99.2,797.8 103.4,784.0 106.1,756.5 108.9,728.9 111.6,672.0 114.4,623.2 117.1,573.6 118.5,529.5 121.2,496.4 124.0,456.4 126.2,426.0 128.1,386.0 130.9,372.4 133.6,361.3 136.4,349.0 139.2,361.3 141.9,375.0 143.3,395.8 146.0,435.8 148.8,466.0 151.6,474.4 153.8,518.5 155.7,570.8 157.6,609.4 159.8,650.8 162.6,694.9 164.0,701.3 165.4,737.2 168.1,784.0 172.3,806.0 175.0,822.6 179.2,832.3 184.7,836.4 192.9,840.5 198.9,839.7 205.6,837.0 211.3,837.8 218.2,842.4 225.1,841.1 230.3,836.9 235.7,841.7 241.8,840.6 247.6,839.3 252.9,841.8 259.0,837.1 263.9,839.7 269.0,837.6 275.6,843.3 280.7,842.5 287.6,839.3 293.3,840.4 299.6,836.6 306.8,842.4 312.0,837.5 317.6,840.0 323.5,838.0 330.0,838.2 335.1,840.1 342.2,837.2 347.9,843.2 353.2,843.1 359.2,840.9 364.8,836.7 369.9,838.0 377.0,841.4 383.1,840.5 388.7,837.1 394.3,836.6 400.0,843.3 406.0,837.4 413.0,837.6 419.1,842.4 428.4,840.0 430.4,840.0 437.0,840.5 441.1,825.4 445.2,797.8 449.4,784.0 452.1,756.5 454.9,728.9 457.6,672.0 460.4,623.2 463.1,573.6 464.5,529.5 467.2,496.4 470.0,456.4 472.2,426.0 474.1,386.0 476.9,372.4 479.6,361.3 482.4,349.0 485.2,361.3 487.9,375.0 489.3,395.8 492.0,435.8 494.8,466.0 497.6,474.4 499.8,518.5 501.7,570.8 503.6,609.4 505.8,650.8 508.6,694.9 510.0,701.3 511.4,737.2 514.1,784.0 518.3,806.0 521.0,822.6 525.2,832.3 530.7,836.4 538.9,840.5 544.9,841.8 550.6,841.2 556.2,841.7 561.9,839.4 567.4,837.0 572.6,840.0 577.8,837.1 584.2,838.9 591.3,836.8 598.2,840.9 604.8,841.2 611.2,840.1 617.3,839.0 623.5,840.1 630.0,838.0 635.0,838.9 640.0,837.4 645.3,838.4 650.8,837.5 658.0,839.3 663.8,838.2 669.5,836.8 676.2,840.5 683.3,838.2 689.8,836.4 695.4,841.9 702.5,841.3 708.3,837.1 714.0,841.3 719.8,837.2 725.7,837.4 732.0,839.4 738.8,842.3 745.8,841.6 751.3,842.0 757.0,841.6 764.1,841.9 774.4,840.0 777.3,840.0 783.9,840.5 788.0,825.3 792.1,797.6 796.3,783.8 799.0,756.2 801.8,728.4 804.5,671.3 807.3,622.3 810.0,572.5 811.4,528.2 814.1,495.0 816.9,454.8 819.1,424.3 821.0,384.2 823.8,370.5 826.5,359.4 829.3,347.0 832.1,359.4 834.8,373.1 836.2,394.0 838.9,434.2 841.7,464.5 844.5,472.9 846.7,517.2 848.6,569.7 850.5,608.5 852.7,650.0 855.5,694.3 856.9,700.7 858.3,736.8 861.0,783.8 865.2,805.9 867.9,822.5 872.1,832.3 877.6,836.4 885.8,840.5 891.8,838.2 896.6,841.1 901.8,842.6 908.5,837.6 914.0,837.2 920.5,840.2 926.1,841.5 932.2,838.0 939.0,838.0 943.9,839.9 949.0,839.1 954.6,838.8 960.6,840.9 965.7,842.2 972.3,841.4 977.3,839.0 983.5,838.7 990.3,841.8 996.3,842.7 1002.7,840.8 1009.9,841.2 1015.0,838.0 1020.1,840.7 1027.1,836.5 1032.2,843.6 1039.0,842.5 1046.1,837.3 1051.9,839.9 1057.6,839.5 1063.8,836.9 1069.7,837.1 1076.1,843.2 1082.2,842.4 1088.6,837.8 1093.9,838.8 1100.1,842.1 1106.7,843.0 1113.7,841.4 1121.3,840.0 1122.0,840.0 1128.6,840.5 1132.7,825.3 1136.8,797.6 1141.0,783.8 1143.7,756.2 1146.5,728.4 1149.2,671.3 1152.0,622.3 1154.7,572.5 1156.1,528.2 1158.8,495.0 1161.6,454.8 1163.8,424.3 1165.7,384.2 1168.5,370.5 1171.2,359.4 1174.0,347.0 1176.8,359.4 1179.5,373.1 1180.9,394.0 1183.6,434.2 1186.4,464.5 1189.2,472.9 1191.4,517.2 1193.3,569.7 1195.2,608.5 1197.4,650.0 1200.2,694.3 1201.6,700.7 1203.0,736.8 1205.7,783.8 1209.9,805.9 1212.6,822.5 1216.8,832.3 1222.3,836.4 1230.5,840.5 1236.5,836.5 1243.5,837.7 1249.9,838.7 1255.9,837.3 1261.6,839.7 1267.1,840.8 1272.8,840.9 1279.0,842.0 1283.9,841.1 1290.3,836.9 1296.3,841.7 1303.0,841.1 1309.0,841.8 1314.1,837.6 1320.5,837.6 1326.2,839.9 1332.1,837.7 1339.0,838.7 1345.2,839.4 1350.2,839.3 1357.1,837.6 1363.5,840.6 1368.7,837.7 1374.8,838.5 1379.9,842.5 1385.5,838.3 1390.9,839.5 1397.6,839.6 1403.6,840.4 1410.7,840.3 1417.1,841.7 1422.5,837.0 1429.5,840.6 1434.3,843.5 1439.9,842.5 1446.5,840.5 1453.5,838.0 1458.3,839.8 1466.0,840.0 1468.2,840.0 1474.8,840.5 1478.9,825.2 1483.0,797.3 1487.2,783.4 1489.9,755.6 1492.7,727.7 1495.4,670.1 1498.2,620.8 1500.9,570.6 1502.3,526.0 1505.0,492.6 1507.8,452.1 1510.0,421.4 1511.9,380.9 1514.7,367.2 1517.4,355.9 1520.2,343.5 1523.0,355.9 1525.7,369.8 1527.1,390.8 1529.8,431.3 1532.6,461.8 1535.4,470.3 1537.6,514.9 1539.5,567.8 1541.4,606.8 1543.6,648.7 1546.4,693.3 1547.8,699.7 1549.2,736.0 1551.9,783.4 1556.1,805.6 1558.8,822.4 1563.0,832.2 1568.5,836.4 1576.7,840.5 1582.7,842.2 1588.4,837.7 1593.3,841.7 1598.5,839.8 1605.0,837.2 1610.9,837.7 1618.1,841.1 1625.3,841.8 1632.1,841.0 1638.8,838.7 1645.8,842.4 1651.0,842.3 1657.3,837.8 1662.9,839.7 1669.7,840.8 1674.8,837.7 1680.6,842.0 1687.3,843.2 1692.3,838.7 1697.7,837.4 1703.3,840.2 1710.3,836.5 1716.1,839.6 1722.6,840.7 1728.6,841.8 1735.6,843.4 1741.0,839.0" fill="none" stroke="#ffff00" stroke-width="3.7" stroke-linejoin="round" stroke-linecap="square"/><polyline points="7.0,700.2 8.9,699.7 15.8,703.3 22.4,703.6 28.8,702.6 34.9,701.6 41.1,702.6 47.6,700.7 53.7,699.0 59.2,701.7 70.2,697.6 78.4,699.0 80.4,698.6 82.7,698.6 86.8,709.6 89.6,728.9 90.4,803.3 95.1,814.4 98.7,830.9 99.8,856.0 102.5,856.0 104.2,836.4 108.9,819.9 113.0,826.8 118.5,825.4 124.0,835.0 129.5,824.0 135.1,828.1 140.6,824.0 148.8,829.5 157.1,828.1 162.6,833.6 166.8,841.9 172.3,832.3 177.8,843.3 187.4,839.2 192.9,833.6 198.9,832.2 203.7,834.5 208.9,835.6 215.6,831.7 221.1,831.4 227.6,833.7 237.0,833.6 241.2,828.1 243.9,811.6 248.1,806.1 249.4,764.7 250.8,709.6 256.3,704.1 260.5,689.0 264.6,699.0 272.9,697.6 277.0,708.6 281.1,700.4 286.7,705.9 290.8,700.4 299.0,708.6 303.2,700.4 307.3,704.5 314.2,700.4 319.7,703.7 330.8,703.7 336.3,699.0 341.8,703.0 347.8,703.8 353.9,700.7 360.7,700.7 365.6,702.4 370.7,701.7 376.3,701.4 382.3,703.3 387.3,704.5 394.0,703.7 399.7,699.0 405.2,701.7 416.2,697.6 424.4,699.0 426.4,698.6 428.7,698.6 432.8,709.6 435.6,728.9 436.4,803.3 441.1,814.4 444.7,830.9 445.8,856.0 448.5,856.0 450.2,836.4 454.9,819.9 459.0,826.8 464.5,825.4 470.0,835.0 475.5,824.0 481.1,828.1 486.6,824.0 494.8,829.5 503.1,828.1 508.6,833.6 512.8,841.9 518.3,832.3 523.8,843.3 533.4,839.2 538.9,833.6 544.9,830.9 551.9,831.8 558.3,832.6 564.3,831.5 570.0,833.4 575.5,834.2 583.0,833.6 587.2,828.1 589.9,811.6 594.1,806.1 595.4,764.7 596.8,709.6 602.3,704.1 606.5,689.0 610.6,699.0 618.9,697.6 623.0,708.6 627.1,700.4 632.7,705.9 636.8,700.4 645.0,708.6 649.2,700.4 653.3,704.5 660.2,700.4 665.7,703.7 676.8,703.7 682.3,699.0 687.8,703.0 693.8,703.3 700.0,704.3 704.9,703.4 711.3,699.8 717.3,704.0 724.0,703.4 730.0,704.1 735.1,700.4 745.7,699.0 751.2,701.7 762.2,697.6 770.4,699.0 773.3,698.6 775.6,698.6 779.7,709.6 782.5,728.9 783.3,803.3 788.0,814.4 791.6,830.9 792.7,856.0 795.4,856.0 797.1,836.4 801.8,819.9 805.9,826.8 811.4,825.4 816.9,835.0 822.4,824.0 828.0,828.1 833.5,824.0 841.7,829.5 850.0,828.1 855.5,833.6 859.7,841.9 865.2,832.3 870.7,843.3 880.3,839.2 885.8,833.6 891.8,835.3 897.5,831.8 902.4,834.9 907.6,833.5 914.1,831.4 920.0,831.8 929.9,833.6 934.1,828.1 936.8,811.6 941.0,806.1 942.3,764.7 943.7,709.6 949.2,704.1 953.4,689.0 957.5,699.0 965.8,697.6 969.9,708.6 974.0,700.4 979.6,705.9 983.7,700.4 991.9,708.6 996.1,700.4 1000.2,704.5 1007.1,700.4 1012.6,703.7 1023.7,703.7 1029.2,699.0 1034.7,703.0 1040.7,703.4 1047.9,704.1 1054.7,703.4 1061.4,701.3 1068.4,704.7 1073.6,704.6 1079.9,700.5 1085.5,702.3 1092.6,699.0 1098.1,701.7 1109.1,697.6 1117.3,699.0 1118.0,698.6 1120.3,698.6 1124.4,709.6 1127.2,728.9 1128.0,803.3 1132.7,814.4 1136.3,830.9 1137.4,856.0 1140.1,856.0 1141.8,836.4 1146.5,819.9 1150.6,826.8 1156.1,825.4 1161.6,835.0 1167.1,824.0 1172.7,828.1 1178.2,824.0 1186.4,829.5 1194.7,828.1 1200.2,833.6 1204.4,841.9 1209.9,832.3 1215.4,843.3 1225.0,839.2 1230.5,833.6 1236.5,833.5 1242.0,833.6 1247.0,831.9 1254.0,832.7 1261.0,831.8 1267.7,831.0 1274.6,833.6 1278.8,828.1 1281.5,811.6 1285.7,806.1 1287.0,764.7 1288.4,709.6 1293.9,704.1 1298.1,689.0 1302.2,699.0 1310.5,697.6 1314.6,708.6 1318.7,700.4 1324.3,705.9 1328.4,700.4 1336.6,708.6 1340.8,700.4 1344.9,704.5 1351.8,700.4 1357.3,703.7 1368.4,703.7 1373.9,699.0 1379.4,703.0 1385.4,703.3 1392.1,700.8 1398.7,701.3 1404.4,705.3 1409.7,703.0 1416.9,701.0 1423.8,704.7 1428.6,705.4 1437.3,699.0 1442.8,701.7 1453.8,697.6 1462.0,699.0 1464.2,698.6 1466.5,698.6 1470.6,709.6 1473.4,728.9 1474.2,803.3 1478.9,814.4 1482.5,830.9 1483.6,856.0 1486.3,856.0 1488.0,836.4 1492.7,819.9 1496.8,826.8 1502.3,825.4 1507.8,835.0 1513.3,824.0 1518.9,828.1 1524.4,824.0 1532.6,829.5 1540.9,828.1 1546.4,833.6 1550.6,841.9 1556.1,832.3 1561.6,843.3 1571.2,839.2 1576.7,833.6 1582.7,833.8 1588.7,832.7 1595.9,831.6 1601.3,835.3 1606.9,832.3 1611.9,831.9 1620.8,833.6 1625.0,828.1 1627.7,811.6 1631.9,806.1 1633.2,764.7 1634.6,709.6 1640.1,704.1 1644.3,689.0 1648.4,699.0 1656.7,697.6 1660.8,708.6 1664.9,700.4 1670.5,705.9 1674.6,700.4 1682.8,708.6 1687.0,700.4 1691.1,704.5 1698.0,700.4 1703.5,703.7 1714.6,703.7 1720.1,699.0 1725.6,703.0 1731.6,699.7 1737.0,702.4 1741.0,701.0" fill="none" stroke="#00ffff" stroke-width="3.7" stroke-linejoin="round" stroke-linecap="square"/>
</g>
<path d="M6.2,955 V104.7 H1743.6 V955" fill="none" stroke="#4c464c" stroke-width="2.5"/>
<path d="M4.7,835.7 H36 L53,853 L36,870.3 H4.7 Z" fill="#ffff00"/>
<text x="13.0" y="864.0" font-family="'Liberation Mono', monospace" font-size="33.40" font-weight="bold" fill="#000" xml:space="preserve">1</text>
<path d="M4.7,827.7 H36 L53,845 L36,862.3 H4.7 Z" fill="#00ffff"/>
<text x="12.5" y="856.0" font-family="'Liberation Mono', monospace" font-size="34.16" font-weight="bold" fill="#000" textLength="20.0" lengthAdjust="spacingAndGlyphs" xml:space="preserve">2</text>
<path d="M1745,739.7 H1714 L1696.5,757 L1714,774.3 H1745 Z" fill="#00ff00"/>
<text x="1717.5" y="769.0" font-family="'Liberation Sans', sans-serif" font-size="32.27" font-weight="bold" fill="#000" textLength="21.0" lengthAdjust="spacingAndGlyphs" xml:space="preserve">T</text>
<rect x="12.3" y="110.3" width="235.0" height="148.3" fill="#404040" rx="7" stroke="#555" stroke-width="1.5"/>
<text x="23.3" y="142.5" font-family="'Liberation Mono', monospace" font-size="34.92" font-weight="bold" textLength="191.5" lengthAdjust="spacingAndGlyphs" xml:space="preserve">T = 4.97uS</text>
<text x="23.3" y="178.5" font-family="'Liberation Mono', monospace" font-size="34.92" font-weight="bold" textLength="191.5" lengthAdjust="spacingAndGlyphs" xml:space="preserve">F = 201KHz</text>
<text x="23.3" y="214.5" font-family="'Liberation Mono', monospace" font-size="34.92" font-weight="bold" textLength="172.3" lengthAdjust="spacingAndGlyphs" xml:space="preserve">V1 = 245V</text>
<text x="23.3" y="250.5" font-family="'Liberation Mono', monospace" font-size="34.92" font-weight="bold" textLength="191.5" lengthAdjust="spacingAndGlyphs" xml:space="preserve">V2 = 4.90V</text>
<path d="M1274,107.5 H1306 V128 L1290,143.6 L1274,128 Z" fill="#00ff00"/>
<text x="864.4" y="205.8" font-family="'Liberation Sans', sans-serif" font-size="48.69" textLength="708.2" lengthAdjust="spacingAndGlyphs" stroke="#fff" stroke-width="0.7" xml:space="preserve">PRIMARY FREQUENCY TOO HIGH,</text>
<text x="742.6" y="265.0" font-family="'Liberation Sans', sans-serif" font-size="48.69" textLength="951.7" lengthAdjust="spacingAndGlyphs" stroke="#fff" stroke-width="0.7" xml:space="preserve">INCREASE NUMBER OF TURNS ON PRIMARY</text>
<rect x="0.0" y="0.0" width="192.0" height="89.6" fill="#000078"/>
<rect x="9.0" y="27.0" width="19.4" height="18.2" fill="#fff"/>
<rect x="9.0" y="47.8" width="19.4" height="17.8" fill="#fff"/>
<rect x="31.6" y="27.0" width="19.1" height="18.2" fill="#fff"/>
<rect x="31.6" y="47.8" width="19.1" height="17.8" fill="#fff"/>
<text x="63.0" y="58.7" font-family="'Liberation Sans', sans-serif" font-size="39.24" textLength="116.0" lengthAdjust="spacingAndGlyphs" stroke="#fff" stroke-width="1.2" xml:space="preserve">MENU</text>
<text x="255.0" y="60.3" font-family="'Liberation Sans', sans-serif" font-size="34.88" font-weight="bold" textLength="63.0" lengthAdjust="spacingAndGlyphs" xml:space="preserve">RUN</text>
<rect x="386.0" y="11.2" width="75.4" height="81.0" fill="#ffff00"/>
<text x="397.0" y="60.5" font-family="'Liberation Sans', sans-serif" font-size="24.27" font-weight="bold" fill="#000" textLength="50.0" lengthAdjust="spacingAndGlyphs" xml:space="preserve">CH1</text>
<text x="476.5" y="43.0" font-family="'Liberation Sans', sans-serif" font-size="26.16" font-weight="bold" textLength="105.0" lengthAdjust="spacingAndGlyphs" xml:space="preserve">DC 10X</text>
<text x="476.5" y="78.3" font-family="'Liberation Sans', sans-serif" font-size="24.42" font-weight="bold" textLength="105.0" lengthAdjust="spacingAndGlyphs" xml:space="preserve">50V/div</text>
<rect x="691.0" y="11.2" width="75.0" height="81.0" fill="#00ffff"/>
<text x="702.0" y="60.5" font-family="'Liberation Sans', sans-serif" font-size="24.27" font-weight="bold" fill="#000" textLength="52.5" lengthAdjust="spacingAndGlyphs" xml:space="preserve">CH2</text>
<text x="781.5" y="43.0" font-family="'Liberation Sans', sans-serif" font-size="26.16" font-weight="bold" textLength="93.0" lengthAdjust="spacingAndGlyphs" xml:space="preserve">DC  1X</text>
<text x="781.5" y="78.3" font-family="'Liberation Sans', sans-serif" font-size="24.42" font-weight="bold" textLength="88.0" lengthAdjust="spacingAndGlyphs" xml:space="preserve">1V/div</text>
<text x="963.0" y="63.0" font-family="'Liberation Mono', monospace" font-size="34.92" font-weight="bold" textLength="172.3" lengthAdjust="spacingAndGlyphs" xml:space="preserve">500nS/div</text>
<rect x="1181.7" y="12.2" width="94.4" height="79.0" fill="#00006e" rx="4" stroke="#0000a8" stroke-width="1.5"/>
<text x="1186.5" y="43.0" font-family="'Liberation Sans', sans-serif" font-size="34.30" font-weight="bold" textLength="87.0" lengthAdjust="spacingAndGlyphs" xml:space="preserve">move</text>
<text x="1192.0" y="78.0" font-family="'Liberation Sans', sans-serif" font-size="34.30" font-weight="bold" textLength="74.0" lengthAdjust="spacingAndGlyphs" xml:space="preserve">fast</text>
<rect x="1367.4" y="10.8" width="75.2" height="81.5" fill="#00ff00"/>
<text x="1396.0" y="63.0" font-family="'Liberation Sans', sans-serif" font-size="32.70" font-weight="bold" fill="#000" textLength="21.0" lengthAdjust="spacingAndGlyphs" xml:space="preserve">T</text>
<text x="1452.5" y="41.0" font-family="'Liberation Sans', sans-serif" font-size="28.49" font-weight="bold" textLength="64.0" lengthAdjust="spacingAndGlyphs" xml:space="preserve">Auto</text>
<rect x="1452.0" y="56.3" width="69.7" height="36.0" fill="#00ffff"/>
<text x="1460.5" y="83.4" font-family="'Liberation Sans', sans-serif" font-size="24.71" font-weight="bold" fill="#000" textLength="55.0" lengthAdjust="spacingAndGlyphs" xml:space="preserve">CH2</text>
<path d="M1551,61.2 H1543 V86.6 H1533 M1537.5,74 H1549" fill="none" stroke="#fff" stroke-width="2.6"/>
<rect x="1684.0" y="19.8" width="6.0" height="12.2" fill="#fff"/>
<rect x="1689.0" y="10.8" width="53.8" height="30.2" fill="#fff"/>
<rect x="1697.0" y="14.0" width="43.0" height="23.8" fill="#00b400"/>
<rect x="1773.8" y="11.7" width="124.8" height="113.7" fill="#333533" rx="9" stroke="#5a5a5a" stroke-width="2"/>
<text x="1796.0" y="78.8" font-family="'Liberation Sans', sans-serif" font-size="32.70" textLength="80.0" lengthAdjust="spacingAndGlyphs" stroke="#fff" stroke-width="1.5" xml:space="preserve">CTRL</text>
<rect x="1774.3" y="146.5" width="123.9" height="114.0" fill="#000" rx="9" stroke="#343434" stroke-width="1.7"/>
<text x="1793.5" y="198.0" font-family="'Liberation Sans', sans-serif" font-size="32.70" textLength="83.1" lengthAdjust="spacingAndGlyphs" stroke="#fff" stroke-width="1.5" xml:space="preserve">RUN/</text>
<text x="1793.5" y="231.5" font-family="'Liberation Sans', sans-serif" font-size="32.70" textLength="84.5" lengthAdjust="spacingAndGlyphs" stroke="#fff" stroke-width="1.5" xml:space="preserve">STOP</text>
<rect x="1774.3" y="281.5" width="123.9" height="114.0" fill="#000" rx="9" stroke="#343434" stroke-width="1.7"/>
<text x="1795.0" y="333.0" font-family="'Liberation Sans', sans-serif" font-size="32.70" textLength="83.0" lengthAdjust="spacingAndGlyphs" stroke="#fff" stroke-width="1.5" xml:space="preserve">AUTO</text>
<text x="1805.0" y="366.5" font-family="'Liberation Sans', sans-serif" font-size="32.70" textLength="62.0" lengthAdjust="spacingAndGlyphs" stroke="#fff" stroke-width="1.5" xml:space="preserve">SET</text>
<rect x="1774.3" y="416.5" width="123.9" height="114.0" fill="#000" rx="9" stroke="#343434" stroke-width="1.7"/>
<text y="468.0" font-family="'Liberation Sans', sans-serif" font-size="32.70" stroke="#fff" stroke-width="1.5" xml:space="preserve"><tspan x="1793.8" textLength="22" lengthAdjust="spacingAndGlyphs">T</tspan><tspan x="1831" textLength="6" lengthAdjust="spacingAndGlyphs">  </tspan><tspan x="1838.3" textLength="43.5" lengthAdjust="spacingAndGlyphs">CU</tspan></text>
<text x="1793.8" y="501.5" font-family="'Liberation Sans', sans-serif" font-size="32.70" textLength="88.8" lengthAdjust="spacingAndGlyphs" stroke="#fff" stroke-width="1.5" xml:space="preserve">RSOR</text>
<rect x="1774.3" y="551.5" width="123.9" height="114.0" fill="#000" rx="9" stroke="#343434" stroke-width="1.7"/>
<text y="603.0" font-family="'Liberation Sans', sans-serif" font-size="32.70" stroke="#fff" stroke-width="1.5" xml:space="preserve"><tspan x="1793.8" textLength="22" lengthAdjust="spacingAndGlyphs">V</tspan><tspan x="1831" textLength="6" lengthAdjust="spacingAndGlyphs">  </tspan><tspan x="1838.3" textLength="43.5" lengthAdjust="spacingAndGlyphs">CU</tspan></text>
<text x="1793.8" y="636.5" font-family="'Liberation Sans', sans-serif" font-size="32.70" textLength="88.8" lengthAdjust="spacingAndGlyphs" stroke="#fff" stroke-width="1.5" xml:space="preserve">RSOR</text>
<rect x="1774.3" y="686.5" width="123.9" height="114.0" fill="#000" rx="9" stroke="#343434" stroke-width="1.7"/>
<text x="1793.0" y="738.0" font-family="'Liberation Sans', sans-serif" font-size="32.70" textLength="87.0" lengthAdjust="spacingAndGlyphs" stroke="#fff" stroke-width="1.5" xml:space="preserve">MEAS</text>
<text x="1793.5" y="771.5" font-family="'Liberation Sans', sans-serif" font-size="32.70" textLength="80.5" lengthAdjust="spacingAndGlyphs" stroke="#fff" stroke-width="1.5" xml:space="preserve">URES</text>
<rect x="1774.3" y="821.5" width="123.9" height="114.0" fill="#000" rx="9" stroke="#343434" stroke-width="1.7"/>
<text x="1794.0" y="873.0" font-family="'Liberation Sans', sans-serif" font-size="32.70" textLength="84.0" lengthAdjust="spacingAndGlyphs" stroke="#fff" stroke-width="1.5" xml:space="preserve">SAVE</text>
<text x="1811.0" y="906.5" font-family="'Liberation Sans', sans-serif" font-size="32.70" textLength="52.0" lengthAdjust="spacingAndGlyphs" stroke="#fff" stroke-width="1.5" xml:space="preserve">PIC</text>
<rect x="1774.3" y="956.5" width="123.9" height="114.0" fill="#000" rx="9" stroke="#343434" stroke-width="1.7"/>
<text x="1794.0" y="1008.0" font-family="'Liberation Sans', sans-serif" font-size="32.70" textLength="84.0" lengthAdjust="spacingAndGlyphs" stroke="#fff" stroke-width="1.5" xml:space="preserve">SAVE</text>
<text x="1789.0" y="1041.5" font-family="'Liberation Sans', sans-serif" font-size="32.70" textLength="94.0" lengthAdjust="spacingAndGlyphs" stroke="#fff" stroke-width="1.5" xml:space="preserve">WAVE</text>
<rect x="8.0" y="959.3" width="341.3" height="55.2" fill="#1e1e1e" rx="7"/>
<rect x="13.7" y="964.8" width="46.8" height="43.5" fill="#ffff00"/>
<text x="27.5" y="997.1" font-family="'Liberation Mono', monospace" font-size="33.40" font-weight="bold" fill="#000" textLength="20.0" lengthAdjust="spacingAndGlyphs" xml:space="preserve">1</text>
<text y="997.3" font-family="'DejaVu Sans Mono', 'Liberation Mono', monospace" font-size="34.29" stroke="#fff" stroke-width="0.9" xml:space="preserve"><tspan x="75.5" textLength="98.5" lengthAdjust="spacingAndGlyphs">Vmax</tspan><tspan x="177.8">:</tspan></text>
<text x="203.5" y="999.6" font-family="'Liberation Mono', monospace" font-size="34.92" font-weight="bold" textLength="95.8" lengthAdjust="spacingAndGlyphs" xml:space="preserve">+214V</text>
<rect x="8.0" y="1020.2" width="341.3" height="55.2" fill="#1e1e1e" rx="7"/>
<rect x="13.7" y="1025.7" width="46.8" height="43.5" fill="#ffff00"/>
<text x="27.5" y="1058.0" font-family="'Liberation Mono', monospace" font-size="33.40" font-weight="bold" fill="#000" textLength="20.0" lengthAdjust="spacingAndGlyphs" xml:space="preserve">1</text>
<text y="1058.2" font-family="'DejaVu Sans Mono', 'Liberation Mono', monospace" font-size="34.29" stroke="#fff" stroke-width="0.9" xml:space="preserve"><tspan x="91.0" textLength="70.0" lengthAdjust="spacingAndGlyphs">VPP</tspan><tspan x="171.0" textLength="6.8" lengthAdjust="spacingAndGlyphs"> </tspan><tspan x="177.8">:</tspan></text>
<text x="203.5" y="1060.5" font-family="'Liberation Mono', monospace" font-size="34.92" font-weight="bold" textLength="76.6" lengthAdjust="spacingAndGlyphs" xml:space="preserve">213V</text>
<rect x="356.2" y="959.3" width="341.3" height="55.2" fill="#1e1e1e" rx="7"/>
<rect x="361.9" y="964.8" width="46.8" height="43.5" fill="#ffff00"/>
<text x="375.7" y="997.1" font-family="'Liberation Mono', monospace" font-size="33.40" font-weight="bold" fill="#000" textLength="20.0" lengthAdjust="spacingAndGlyphs" xml:space="preserve">1</text>
<text y="997.3" font-family="'DejaVu Sans Mono', 'Liberation Mono', monospace" font-size="34.29" stroke="#fff" stroke-width="0.9" xml:space="preserve"><tspan x="426.2" textLength="93.0" lengthAdjust="spacingAndGlyphs">Vmin</tspan><tspan x="526.0">:</tspan></text>
<text x="551.7" y="999.6" font-family="'Liberation Mono', monospace" font-size="34.92" font-weight="bold" textLength="114.9" lengthAdjust="spacingAndGlyphs" xml:space="preserve">+980mV</text>
<rect x="356.2" y="1020.2" width="341.3" height="55.2" fill="#1e1e1e" rx="7"/>
<rect x="361.9" y="1025.7" width="46.8" height="43.5" fill="#ffff00"/>
<text x="375.7" y="1058.0" font-family="'Liberation Mono', monospace" font-size="33.40" font-weight="bold" fill="#000" textLength="20.0" lengthAdjust="spacingAndGlyphs" xml:space="preserve">1</text>
<text y="1058.2" font-family="'DejaVu Sans Mono', 'Liberation Mono', monospace" font-size="34.29" stroke="#fff" stroke-width="0.9" xml:space="preserve"><tspan x="426.2" textLength="93.0" lengthAdjust="spacingAndGlyphs">Vrms</tspan><tspan x="526.0">:</tspan></text>
<text x="551.7" y="1060.5" font-family="'Liberation Mono', monospace" font-size="34.92" font-weight="bold" textLength="95.8" lengthAdjust="spacingAndGlyphs" xml:space="preserve">66.9V</text>
<rect x="704.3" y="959.3" width="341.3" height="55.2" fill="#1e1e1e" rx="7"/>
<rect x="710.0" y="964.8" width="46.8" height="43.5" fill="#ffff00"/>
<text x="723.8" y="997.1" font-family="'Liberation Mono', monospace" font-size="33.40" font-weight="bold" fill="#000" textLength="20.0" lengthAdjust="spacingAndGlyphs" xml:space="preserve">1</text>
<text y="997.3" font-family="'DejaVu Sans Mono', 'Liberation Mono', monospace" font-size="34.29" stroke="#fff" stroke-width="0.9" xml:space="preserve"><tspan x="762.8" textLength="112.5" lengthAdjust="spacingAndGlyphs">Duty+</tspan><tspan x="874.1">:</tspan></text>
<text x="899.8" y="999.6" font-family="'Liberation Mono', monospace" font-size="34.92" font-weight="bold" textLength="57.4" lengthAdjust="spacingAndGlyphs" xml:space="preserve">13%</text>
<rect x="704.3" y="1020.2" width="341.3" height="55.2" fill="#1e1e1e" rx="7"/>
<rect x="710.0" y="1025.7" width="46.8" height="43.5" fill="#ffff00"/>
<text x="723.8" y="1058.0" font-family="'Liberation Mono', monospace" font-size="33.40" font-weight="bold" fill="#000" textLength="20.0" lengthAdjust="spacingAndGlyphs" xml:space="preserve">1</text>
<text y="1058.2" font-family="'DejaVu Sans Mono', 'Liberation Mono', monospace" font-size="34.29" stroke="#fff" stroke-width="0.9" xml:space="preserve"><tspan x="780.8" textLength="84.5" lengthAdjust="spacingAndGlyphs">Freq</tspan><tspan x="874.1">:</tspan></text>
<text x="899.8" y="1060.5" font-family="'Liberation Mono', monospace" font-size="34.92" font-weight="bold" textLength="114.9" lengthAdjust="spacingAndGlyphs" xml:space="preserve">692KHz</text>
<rect x="1052.4" y="959.3" width="341.3" height="55.2" fill="#1e1e1e" rx="7"/>
<rect x="1058.1" y="964.8" width="46.8" height="43.5" fill="#00ffff"/>
<text x="1071.9" y="997.1" font-family="'Liberation Mono', monospace" font-size="33.40" font-weight="bold" fill="#000" textLength="20.0" lengthAdjust="spacingAndGlyphs" xml:space="preserve">2</text>
<text y="997.3" font-family="'DejaVu Sans Mono', 'Liberation Mono', monospace" font-size="34.29" stroke="#fff" stroke-width="0.9" xml:space="preserve"><tspan x="1119.9" textLength="98.5" lengthAdjust="spacingAndGlyphs">Vmax</tspan><tspan x="1222.2">:</tspan></text>
<text x="1247.9" y="999.6" font-family="'Liberation Mono', monospace" font-size="34.92" font-weight="bold" textLength="114.9" lengthAdjust="spacingAndGlyphs" xml:space="preserve">+1.33V</text>
<rect x="1052.4" y="1020.2" width="341.3" height="55.2" fill="#1e1e1e" rx="7"/>
<rect x="1058.1" y="1025.7" width="46.8" height="43.5" fill="#00ffff"/>
<text x="1071.9" y="1058.0" font-family="'Liberation Mono', monospace" font-size="33.40" font-weight="bold" fill="#000" textLength="20.0" lengthAdjust="spacingAndGlyphs" xml:space="preserve">2</text>
<text y="1058.2" font-family="'DejaVu Sans Mono', 'Liberation Mono', monospace" font-size="34.29" stroke="#fff" stroke-width="0.9" xml:space="preserve"><tspan x="1135.4" textLength="70.0" lengthAdjust="spacingAndGlyphs">VPP</tspan><tspan x="1215.4" textLength="6.8" lengthAdjust="spacingAndGlyphs"> </tspan><tspan x="1222.2">:</tspan></text>
<text x="1247.9" y="1060.5" font-family="'Liberation Mono', monospace" font-size="34.92" font-weight="bold" textLength="95.8" lengthAdjust="spacingAndGlyphs" xml:space="preserve">1.54V</text>
<rect x="1400.5" y="959.3" width="341.3" height="55.2" fill="#1e1e1e" rx="7"/>
<rect x="1406.2" y="964.8" width="46.8" height="43.5" fill="#00ffff"/>
<text x="1420.0" y="997.1" font-family="'Liberation Mono', monospace" font-size="33.40" font-weight="bold" fill="#000" textLength="20.0" lengthAdjust="spacingAndGlyphs" xml:space="preserve">2</text>
<text y="997.3" font-family="'DejaVu Sans Mono', 'Liberation Mono', monospace" font-size="34.29" stroke="#fff" stroke-width="0.9" xml:space="preserve"><tspan x="1459.0" textLength="112.5" lengthAdjust="spacingAndGlyphs">Duty+</tspan><tspan x="1570.3">:</tspan></text>
<text x="1596.0" y="999.6" font-family="'Liberation Mono', monospace" font-size="34.92" font-weight="bold" textLength="57.4" lengthAdjust="spacingAndGlyphs" xml:space="preserve">55%</text>
<rect x="1400.5" y="1020.2" width="341.3" height="55.2" fill="#1e1e1e" rx="7"/>
<rect x="1406.2" y="1025.7" width="46.8" height="43.5" fill="#00ffff"/>
<text x="1420.0" y="1058.0" font-family="'Liberation Mono', monospace" font-size="33.40" font-weight="bold" fill="#000" textLength="20.0" lengthAdjust="spacingAndGlyphs" xml:space="preserve">2</text>
<text y="1058.2" font-family="'DejaVu Sans Mono', 'Liberation Mono', monospace" font-size="34.29" stroke="#fff" stroke-width="0.9" xml:space="preserve"><tspan x="1477.0" textLength="84.5" lengthAdjust="spacingAndGlyphs">Freq</tspan><tspan x="1570.3">:</tspan></text>
<text x="1596.0" y="1060.5" font-family="'Liberation Mono', monospace" font-size="34.92" font-weight="bold" textLength="114.9" lengthAdjust="spacingAndGlyphs" xml:space="preserve">692KHz</text>
</g>
<g transform="translate(0,1120)">
<rect x="0.0" y="0.0" width="1920.0" height="1080.0" fill="#000"/>
<g clip-path="url(#plotclip)">
<g><line x1="35" x2="35" y1="99.65" y2="960" stroke="#4a4a4a" stroke-width="2.2" stroke-dasharray="2.2 9.05"/><line x1="155" x2="155" y1="99.65" y2="960" stroke="#4a4a4a" stroke-width="2.2" stroke-dasharray="2.2 9.05"/><line x1="275" x2="275" y1="99.65" y2="960" stroke="#4a4a4a" stroke-width="2.2" stroke-dasharray="2.2 9.05"/><line x1="395" x2="395" y1="99.65" y2="960" stroke="#4a4a4a" stroke-width="2.2" stroke-dasharray="2.2 9.05"/><line x1="515" x2="515" y1="99.65" y2="960" stroke="#4a4a4a" stroke-width="2.2" stroke-dasharray="2.2 9.05"/><line x1="635" x2="635" y1="99.65" y2="960" stroke="#4a4a4a" stroke-width="2.2" stroke-dasharray="2.2 9.05"/><line x1="755" x2="755" y1="99.65" y2="960" stroke="#4a4a4a" stroke-width="2.2" stroke-dasharray="2.2 9.05"/><line x1="995" x2="995" y1="99.65" y2="960" stroke="#4a4a4a" stroke-width="2.2" stroke-dasharray="2.2 9.05"/><line x1="1115" x2="1115" y1="99.65" y2="960" stroke="#4a4a4a" stroke-width="2.2" stroke-dasharray="2.2 9.05"/><line x1="1235" x2="1235" y1="99.65" y2="960" stroke="#4a4a4a" stroke-width="2.2" stroke-dasharray="2.2 9.05"/><line x1="1355" x2="1355" y1="99.65" y2="960" stroke="#4a4a4a" stroke-width="2.2" stroke-dasharray="2.2 9.05"/><line x1="1475" x2="1475" y1="99.65" y2="960" stroke="#4a4a4a" stroke-width="2.2" stroke-dasharray="2.2 9.05"/><line x1="1595" x2="1595" y1="99.65" y2="960" stroke="#4a4a4a" stroke-width="2.2" stroke-dasharray="2.2 9.05"/><line x1="1715" x2="1715" y1="99.65" y2="960" stroke="#4a4a4a" stroke-width="2.2" stroke-dasharray="2.2 9.05"/><line y1="224.5" y2="224.5" x1="9.90" x2="1742" stroke="#4a4a4a" stroke-width="2.2" stroke-dasharray="2.2 9.8"/><line y1="337.0" y2="337.0" x1="9.90" x2="1742" stroke="#4a4a4a" stroke-width="2.2" stroke-dasharray="2.2 9.8"/><line y1="449.5" y2="449.5" x1="9.90" x2="1742" stroke="#4a4a4a" stroke-width="2.2" stroke-dasharray="2.2 9.8"/><line y1="674.5" y2="674.5" x1="9.90" x2="1742" stroke="#4a4a4a" stroke-width="2.2" stroke-dasharray="2.2 9.8"/><line y1="787.0" y2="787.0" x1="9.90" x2="1742" stroke="#4a4a4a" stroke-width="2.2" stroke-dasharray="2.2 9.8"/><line y1="899.5" y2="899.5" x1="9.90" x2="1742" stroke="#4a4a4a" stroke-width="2.2" stroke-dasharray="2.2 9.8"/><line x1="875" x2="875" y1="106" y2="956" stroke="#403a40" stroke-width="2.4"/><line y1="562" y2="562" x1="7" x2="1742" stroke="#403a40" stroke-width="2.4"/><line x1="875" x2="875" y1="99.55" y2="960" stroke="#403a40" stroke-width="13" stroke-dasharray="2.4 8.85"/><line y1="562" y2="562" x1="9.80" x2="1742" stroke="#403a40" stroke-width="11" stroke-dasharray="2.4 9.6"/></g>
<line x1="12" x2="1735.5" y1="145.3" y2="145.3" stroke="#00ff00" stroke-width="2.5" stroke-dasharray="9.6 4.8"/>
<line x1="12" x2="1735.5" y1="705.3" y2="705.3" stroke="#00ff00" stroke-width="2.5" stroke-dasharray="9.6 4.8"/>
<line x1="531.5" x2="531.5" y1="107" y2="956" stroke="#00ff00" stroke-width="2.6" stroke-dasharray="9 4.5"/>
<line x1="1724.4" x2="1724.4" y1="107" y2="956" stroke="#00ff00" stroke-width="2.6" stroke-dasharray="9 4.5"/>
<polyline points="7.6,276.9 8.5,278.7 15.2,287.6 22.9,293.1 28.4,287.6 34.0,289.8 41.8,278.7 48.4,278.7 53.9,269.8 60.6,268.0 63.5,272.0 65.0,296.4 66.6,387.3 67.5,476.0 70.6,489.3 75.0,500.3 79.4,511.4 82.8,522.5 86.1,515.9 89.4,526.9 97.6,525.7 106.4,513.5 115.5,523.4 123.7,513.5 131.1,523.7 137.7,515.5 145.2,523.7 152.5,514.9 161.1,525.2 169.0,513.8 177.5,524.9 186.6,513.6 194.9,523.5 203.1,515.5 212.5,524.7 220.2,514.0 228.9,525.6 236.6,514.1 243.5,523.5 251.1,521.0 252.2,524.7 255.5,515.9 257.7,507.0 259.9,498.1 265.5,491.5 268.8,476.0 274.3,444.9 278.8,409.5 284.3,374.0 289.8,343.0 295.4,314.2 300.9,287.6 307.6,267.6 313.1,253.2 318.7,247.7 325.3,243.2 331.9,248.8 338.6,255.4 343.0,269.8 347.5,280.9 350.8,272.1 354.1,278.7 360.8,287.6 368.5,293.1 374.0,287.6 379.6,289.8 387.4,278.7 394.0,278.7 399.5,269.8 406.2,268.0 409.1,272.0 410.6,296.4 412.2,387.3 413.1,476.0 416.2,489.3 420.6,500.3 425.0,511.4 428.4,522.5 431.7,515.9 435.0,526.9 443.2,523.5 452.6,513.8 462.4,524.1 471.9,513.5 480.5,524.5 490.0,515.6 498.8,523.5 507.7,513.5 515.6,524.4 523.7,515.7 530.4,525.5 538.9,513.4 546.2,524.2 553.4,515.4 562.9,523.7 572.7,514.4 579.9,525.5 586.6,515.0 596.7,521.0 598.0,524.7 601.3,515.9 603.5,507.0 605.7,498.1 611.3,491.5 614.6,476.0 620.1,444.9 624.6,409.5 630.1,374.0 635.6,343.0 641.2,314.2 646.7,287.6 653.4,267.6 658.9,253.2 664.5,247.7 671.1,243.2 677.7,248.8 684.4,255.4 688.8,269.8 693.3,280.9 696.6,272.1 699.9,278.7 706.6,287.6 714.3,293.1 719.8,287.6 725.4,289.8 733.2,278.7 739.8,278.7 745.3,269.8 752.0,268.0 754.9,272.0 756.4,296.4 758.0,387.3 758.9,476.0 762.0,489.3 766.4,500.3 770.8,511.4 774.2,522.5 777.5,515.9 780.8,526.9 789.0,523.7 798.8,514.4 808.2,525.1 817.4,514.4 826.8,523.8 834.6,515.0 844.4,525.1 852.0,514.4 861.0,525.0 870.4,513.7 880.0,524.5 888.2,514.1 897.1,524.6 904.3,515.6 911.8,525.4 918.7,513.3 926.1,524.3 935.8,514.0 942.8,524.7 946.1,515.9 948.3,507.0 950.5,498.1 956.1,491.5 959.4,476.0 964.9,444.9 969.4,409.5 974.9,374.0 980.4,343.0 986.0,314.2 991.5,287.6 998.2,267.6 1003.7,253.2 1009.3,247.7 1015.9,243.2 1022.5,248.8 1029.2,255.4 1033.6,269.8 1038.1,280.9 1041.4,272.1 1044.7,278.7 1051.4,287.6 1059.1,293.1 1064.6,287.6 1070.2,289.8 1078.0,278.7 1084.6,278.7 1090.1,269.8 1096.8,268.0 1099.7,272.0 1101.2,296.4 1102.8,387.3 1103.7,476.0 1106.8,489.3 1111.2,500.3 1115.6,511.4 1119.0,522.5 1122.3,515.9 1125.6,526.9 1133.8,524.1 1140.7,515.7 1148.3,525.3 1155.6,515.6 1163.8,523.9 1171.7,513.4 1179.8,524.5 1188.2,513.6 1197.2,525.5 1204.0,515.5 1212.6,525.4 1221.7,513.5 1228.6,524.4 1237.8,515.6 1246.4,523.3 1255.7,513.8 1263.8,524.8 1270.5,515.5 1277.5,525.5 1287.3,521.0 1289.0,524.7 1292.3,515.9 1294.5,507.0 1296.7,498.1 1302.3,491.5 1305.6,476.0 1311.1,444.9 1315.6,409.5 1321.1,374.0 1326.6,343.0 1332.2,314.2 1337.7,287.6 1344.4,267.6 1349.9,253.2 1355.5,247.7 1362.1,243.2 1368.7,248.8 1375.4,255.4 1379.8,269.8 1384.3,280.9 1387.6,272.1 1390.9,278.7 1397.6,287.6 1405.3,293.1 1410.8,287.6 1416.4,289.8 1424.2,278.7 1430.8,278.7 1436.3,269.8 1443.0,268.0 1445.9,272.0 1447.4,296.4 1449.0,387.3 1449.9,476.0 1453.0,489.3 1457.4,500.3 1461.8,511.4 1465.2,522.5 1468.5,515.9 1471.8,526.9 1480.0,524.9 1487.3,514.9 1496.7,523.8 1504.6,514.6 1512.4,524.2 1519.3,513.4 1528.8,524.7 1537.1,514.0 1546.5,523.9 1554.0,515.4 1561.4,523.4 1569.1,514.1 1575.8,524.1 1585.0,513.5 1591.7,523.8 1601.5,514.3 1609.8,524.4 1616.4,515.1 1624.0,525.4 1633.5,521.0 1634.6,524.7 1637.9,515.9 1640.1,507.0 1642.3,498.1 1647.9,491.5 1651.2,476.0 1656.7,444.9 1661.2,409.5 1666.7,374.0 1672.2,343.0 1677.8,314.2 1683.3,287.6 1690.0,267.6 1695.5,253.2 1701.1,247.7 1707.7,243.2 1714.3,248.8 1721.0,255.4 1725.4,269.8 1729.9,280.9 1733.2,272.1 1736.5,278.7 1741.0,284.7" fill="none" stroke="#ffff00" stroke-width="3.7" stroke-linejoin="round" stroke-linecap="square"/><polyline points="8.0,515.9 28.5,515.9 32.9,519.2 39.5,515.9 46.2,512.5 58.4,512.5 60.6,504.8 62.8,484.8 65.0,471.5 66.6,398.4 68.4,413.9 70.6,422.8 75.0,417.2 78.3,413.9 79.4,382.9 80.5,356.3 82.8,380.7 87.2,374.0 89.4,356.3 91.6,365.2 92.7,398.4 96.1,398.4 98.3,369.6 101.6,361.8 103.8,382.9 108.2,380.7 111.6,366.2 114.9,378.4 117.1,391.7 119.3,385.1 122.7,370.7 126.0,380.7 129.3,387.3 132.6,380.7 136.0,387.3 139.3,385.1 144.8,374.0 149.3,387.3 153.7,378.4 160.3,386.2 167.0,378.4 172.5,386.2 179.2,378.4 182.5,386.2 188.0,378.4 194.7,386.2 201.3,381.8 216.9,385.1 221.3,381.8 244.6,381.8 246.2,381.8 246.6,381.8 249.9,402.8 252.2,451.6 254.4,493.7 256.6,520.3 262.1,509.2 264.4,520.3 266.6,531.4 269.9,520.3 273.2,510.3 277.6,514.7 283.2,504.8 286.5,515.9 288.7,523.6 292.1,509.2 298.7,513.6 305.4,508.1 310.9,514.7 325.3,512.5 329.7,514.7 335.3,519.2 339.7,513.6 345.2,515.9 374.1,515.9 378.5,519.2 385.1,515.9 391.8,512.5 404.0,512.5 406.2,504.8 408.4,484.8 410.6,471.5 412.2,398.4 414.0,413.9 416.2,422.8 420.6,417.2 423.9,413.9 425.0,382.9 426.1,356.3 428.4,380.7 432.8,374.0 435.0,356.3 437.2,365.2 438.3,398.4 441.7,398.4 443.9,369.6 447.2,361.8 449.4,382.9 453.8,380.7 457.2,366.2 460.5,378.4 462.7,391.7 464.9,385.1 468.3,370.7 471.6,380.7 474.9,387.3 478.2,380.7 481.6,387.3 484.9,385.1 490.4,374.0 494.9,387.3 499.3,378.4 505.9,386.2 512.6,378.4 518.1,386.2 524.8,378.4 528.1,386.2 533.6,378.4 540.3,386.2 546.9,381.8 562.5,385.1 566.9,381.8 590.2,381.8 592.0,381.8 592.4,381.8 595.7,402.8 598.0,451.6 600.2,493.7 602.4,520.3 607.9,509.2 610.2,520.3 612.4,531.4 615.7,520.3 619.0,510.3 623.4,514.7 629.0,504.8 632.3,515.9 634.5,523.6 637.9,509.2 644.5,513.6 651.2,508.1 656.7,514.7 671.1,512.5 675.5,514.7 681.1,519.2 685.5,513.6 691.0,515.9 719.9,515.9 724.3,519.2 730.9,515.9 737.6,512.5 749.8,512.5 752.0,504.8 754.2,484.8 756.4,471.5 758.0,398.4 759.8,413.9 762.0,422.8 766.4,417.2 769.7,413.9 770.8,382.9 771.9,356.3 774.2,380.7 778.6,374.0 780.8,356.3 783.0,365.2 784.1,398.4 787.5,398.4 789.7,369.6 793.0,361.8 795.2,382.9 799.6,380.7 803.0,366.2 806.3,378.4 808.5,391.7 810.7,385.1 814.1,370.7 817.4,380.7 820.7,387.3 824.0,380.7 827.4,387.3 830.7,385.1 836.2,374.0 840.7,387.3 845.1,378.4 851.7,386.2 858.4,378.4 863.9,386.2 870.6,378.4 873.9,386.2 879.4,378.4 886.1,386.2 892.7,381.8 908.3,385.1 912.7,381.8 936.0,381.8 936.8,381.8 937.2,381.8 940.5,402.8 942.8,451.6 945.0,493.7 947.2,520.3 952.7,509.2 955.0,520.3 957.2,531.4 960.5,520.3 963.8,510.3 968.2,514.7 973.8,504.8 977.1,515.9 979.3,523.6 982.7,509.2 989.3,513.6 996.0,508.1 1001.5,514.7 1015.9,512.5 1020.3,514.7 1025.9,519.2 1030.3,513.6 1035.8,515.9 1064.7,515.9 1069.1,519.2 1075.7,515.9 1082.4,512.5 1094.6,512.5 1096.8,504.8 1099.0,484.8 1101.2,471.5 1102.8,398.4 1104.6,413.9 1106.8,422.8 1111.2,417.2 1114.5,413.9 1115.6,382.9 1116.7,356.3 1119.0,380.7 1123.4,374.0 1125.6,356.3 1127.8,365.2 1128.9,398.4 1132.3,398.4 1134.5,369.6 1137.8,361.8 1140.0,382.9 1144.4,380.7 1147.8,366.2 1151.1,378.4 1153.3,391.7 1155.5,385.1 1158.9,370.7 1162.2,380.7 1165.5,387.3 1168.8,380.7 1172.2,387.3 1175.5,385.1 1181.0,374.0 1185.5,387.3 1189.9,378.4 1196.5,386.2 1203.2,378.4 1208.7,386.2 1215.4,378.4 1218.7,386.2 1224.2,378.4 1230.9,386.2 1237.5,381.8 1253.1,385.1 1257.5,381.8 1280.8,381.8 1283.0,381.8 1283.4,381.8 1286.7,402.8 1289.0,451.6 1291.2,493.7 1293.4,520.3 1298.9,509.2 1301.2,520.3 1303.4,531.4 1306.7,520.3 1310.0,510.3 1314.4,514.7 1320.0,504.8 1323.3,515.9 1325.5,523.6 1328.9,509.2 1335.5,513.6 1342.2,508.1 1347.7,514.7 1362.1,512.5 1366.5,514.7 1372.1,519.2 1376.5,513.6 1382.0,515.9 1410.9,515.9 1415.3,519.2 1421.9,515.9 1428.6,512.5 1440.8,512.5 1443.0,504.8 1445.2,484.8 1447.4,471.5 1449.0,398.4 1450.8,413.9 1453.0,422.8 1457.4,417.2 1460.7,413.9 1461.8,382.9 1462.9,356.3 1465.2,380.7 1469.6,374.0 1471.8,356.3 1474.0,365.2 1475.1,398.4 1478.5,398.4 1480.7,369.6 1484.0,361.8 1486.2,382.9 1490.6,380.7 1494.0,366.2 1497.3,378.4 1499.5,391.7 1501.7,385.1 1505.1,370.7 1508.4,380.7 1511.7,387.3 1515.0,380.7 1518.4,387.3 1521.7,385.1 1527.2,374.0 1531.7,387.3 1536.1,378.4 1542.7,386.2 1549.4,378.4 1554.9,386.2 1561.6,378.4 1564.9,386.2 1570.4,378.4 1577.1,386.2 1583.7,381.8 1599.3,385.1 1603.7,381.8 1627.0,381.8 1628.6,381.8 1629.0,381.8 1632.3,402.8 1634.6,451.6 1636.8,493.7 1639.0,520.3 1644.5,509.2 1646.8,520.3 1649.0,531.4 1652.3,520.3 1655.6,510.3 1660.0,514.7 1665.6,504.8 1668.9,515.9 1671.1,523.6 1674.5,509.2 1681.1,513.6 1687.8,508.1 1693.3,514.7 1707.7,512.5 1712.1,514.7 1717.7,519.2 1722.1,513.6 1727.6,515.9 1741.0,515.9" fill="none" stroke="#00ffff" stroke-width="3.7" stroke-linejoin="round" stroke-linecap="square"/>
</g>
<path d="M6.2,955 V104.7 H1743.6 V955" fill="none" stroke="#4c464c" stroke-width="2.5"/>
<path d="M4.7,504.7 H36 L53,522 L36,539.3 H4.7 Z" fill="#ffff00"/>
<text x="13.0" y="533.0" font-family="'Liberation Mono', monospace" font-size="33.40" font-weight="bold" fill="#000" xml:space="preserve">1</text>
<path d="M4.7,507.7 H36 L53,525 L36,542.3 H4.7 Z" fill="#00ffff"/>
<text x="12.5" y="536.0" font-family="'Liberation Mono', monospace" font-size="34.16" font-weight="bold" fill="#000" textLength="20.0" lengthAdjust="spacingAndGlyphs" xml:space="preserve">2</text>
<path d="M1745,408.7 H1714 L1696.5,426 L1714,443.3 H1745 Z" fill="#00ff00"/>
<text x="1717.5" y="438.0" font-family="'Liberation Sans', sans-serif" font-size="32.27" font-weight="bold" fill="#000" textLength="21.0" lengthAdjust="spacingAndGlyphs" xml:space="preserve">T</text>
<rect x="12.3" y="110.3" width="235.0" height="148.3" fill="#404040" rx="7" stroke="#555" stroke-width="1.5"/>
<text x="23.3" y="142.5" font-family="'Liberation Mono', monospace" font-size="34.92" font-weight="bold" textLength="191.5" lengthAdjust="spacingAndGlyphs" xml:space="preserve">T = 4.97uS</text>
<text x="23.3" y="178.5" font-family="'Liberation Mono', monospace" font-size="34.92" font-weight="bold" textLength="191.5" lengthAdjust="spacingAndGlyphs" xml:space="preserve">F = 201KHz</text>
<text x="23.3" y="214.5" font-family="'Liberation Mono', monospace" font-size="34.92" font-weight="bold" textLength="191.5" lengthAdjust="spacingAndGlyphs" xml:space="preserve">V1 = 4.98V</text>
<text x="23.3" y="250.5" font-family="'Liberation Mono', monospace" font-size="34.92" font-weight="bold" textLength="191.5" lengthAdjust="spacingAndGlyphs" xml:space="preserve">V2 = 49.8V</text>
<path d="M957,107.5 H989 V128 L973,143.6 L957,128 Z" fill="#00ff00"/>
<text x="550.5" y="617.6" font-family="'Liberation Sans', sans-serif" font-size="47.82" textLength="764.8" lengthAdjust="spacingAndGlyphs" stroke="#fff" stroke-width="0.7" xml:space="preserve">OVER-COUPLED, REDUCE PRIMARY</text>
<text x="550.5" y="675.7" font-family="'Liberation Sans', sans-serif" font-size="47.38" textLength="615.6" lengthAdjust="spacingAndGlyphs" stroke="#fff" stroke-width="0.7" xml:space="preserve">AND SECONDARY COUPLING</text>
<rect x="0.0" y="0.0" width="192.0" height="89.6" fill="#000078"/>
<rect x="9.0" y="27.0" width="19.4" height="18.2" fill="#fff"/>
<rect x="9.0" y="47.8" width="19.4" height="17.8" fill="#fff"/>
<rect x="31.6" y="27.0" width="19.1" height="18.2" fill="#fff"/>
<rect x="31.6" y="47.8" width="19.1" height="17.8" fill="#fff"/>
<text x="63.0" y="58.7" font-family="'Liberation Sans', sans-serif" font-size="39.24" textLength="116.0" lengthAdjust="spacingAndGlyphs" stroke="#fff" stroke-width="1.2" xml:space="preserve">MENU</text>
<text x="255.0" y="60.3" font-family="'Liberation Sans', sans-serif" font-size="34.88" font-weight="bold" textLength="63.0" lengthAdjust="spacingAndGlyphs" xml:space="preserve">RUN</text>
<rect x="386.0" y="11.2" width="75.4" height="81.0" fill="#ffff00"/>
<text x="397.0" y="60.5" font-family="'Liberation Sans', sans-serif" font-size="24.27" font-weight="bold" fill="#000" textLength="50.0" lengthAdjust="spacingAndGlyphs" xml:space="preserve">CH1</text>
<text x="476.5" y="43.0" font-family="'Liberation Sans', sans-serif" font-size="26.16" font-weight="bold" textLength="93.0" lengthAdjust="spacingAndGlyphs" xml:space="preserve">DC  1X</text>
<text x="476.5" y="78.3" font-family="'Liberation Sans', sans-serif" font-size="24.42" font-weight="bold" textLength="88.0" lengthAdjust="spacingAndGlyphs" xml:space="preserve">1V/div</text>
<rect x="691.0" y="11.2" width="75.0" height="81.0" fill="#00ffff"/>
<text x="702.0" y="60.5" font-family="'Liberation Sans', sans-serif" font-size="24.27" font-weight="bold" fill="#000" textLength="52.5" lengthAdjust="spacingAndGlyphs" xml:space="preserve">CH2</text>
<text x="781.5" y="43.0" font-family="'Liberation Sans', sans-serif" font-size="26.16" font-weight="bold" textLength="105.0" lengthAdjust="spacingAndGlyphs" xml:space="preserve">DC 10X</text>
<text x="781.5" y="78.3" font-family="'Liberation Sans', sans-serif" font-size="24.42" font-weight="bold" textLength="105.0" lengthAdjust="spacingAndGlyphs" xml:space="preserve">10V/div</text>
<text x="963.0" y="63.0" font-family="'Liberation Mono', monospace" font-size="34.92" font-weight="bold" textLength="172.3" lengthAdjust="spacingAndGlyphs" xml:space="preserve">500nS/div</text>
<rect x="1181.7" y="12.2" width="94.4" height="79.0" fill="#00006e" rx="4" stroke="#0000a8" stroke-width="1.5"/>
<text x="1186.5" y="43.0" font-family="'Liberation Sans', sans-serif" font-size="34.30" font-weight="bold" textLength="87.0" lengthAdjust="spacingAndGlyphs" xml:space="preserve">move</text>
<text x="1192.0" y="78.0" font-family="'Liberation Sans', sans-serif" font-size="34.30" font-weight="bold" textLength="74.0" lengthAdjust="spacingAndGlyphs" xml:space="preserve">fast</text>
<rect x="1367.4" y="10.8" width="75.2" height="81.5" fill="#00ff00"/>
<text x="1396.0" y="63.0" font-family="'Liberation Sans', sans-serif" font-size="32.70" font-weight="bold" fill="#000" textLength="21.0" lengthAdjust="spacingAndGlyphs" xml:space="preserve">T</text>
<text x="1452.5" y="41.0" font-family="'Liberation Sans', sans-serif" font-size="28.49" font-weight="bold" textLength="64.0" lengthAdjust="spacingAndGlyphs" xml:space="preserve">Auto</text>
<rect x="1452.0" y="56.3" width="69.7" height="36.0" fill="#ffff00"/>
<text x="1460.5" y="83.4" font-family="'Liberation Sans', sans-serif" font-size="24.71" font-weight="bold" fill="#000" textLength="52.0" lengthAdjust="spacingAndGlyphs" xml:space="preserve">CH1</text>
<path d="M1551,61.2 H1543 V86.6 H1533 M1537.5,74 H1549" fill="none" stroke="#fff" stroke-width="2.6"/>
<rect x="1684.0" y="19.8" width="6.0" height="12.2" fill="#fff"/>
<rect x="1689.0" y="10.8" width="53.8" height="30.2" fill="#fff"/>
<rect x="1697.0" y="14.0" width="43.0" height="23.8" fill="#00b400"/>
<rect x="1773.8" y="11.7" width="124.8" height="113.7" fill="#333533" rx="9" stroke="#5a5a5a" stroke-width="2"/>
<text x="1796.0" y="78.8" font-family="'Liberation Sans', sans-serif" font-size="32.70" textLength="80.0" lengthAdjust="spacingAndGlyphs" stroke="#fff" stroke-width="1.5" xml:space="preserve">CTRL</text>
<rect x="1774.3" y="146.5" width="123.9" height="114.0" fill="#000" rx="9" stroke="#343434" stroke-width="1.7"/>
<text x="1793.5" y="198.0" font-family="'Liberation Sans', sans-serif" font-size="32.70" textLength="83.1" lengthAdjust="spacingAndGlyphs" stroke="#fff" stroke-width="1.5" xml:space="preserve">RUN/</text>
<text x="1793.5" y="231.5" font-family="'Liberation Sans', sans-serif" font-size="32.70" textLength="84.5" lengthAdjust="spacingAndGlyphs" stroke="#fff" stroke-width="1.5" xml:space="preserve">STOP</text>
<rect x="1774.3" y="281.5" width="123.9" height="114.0" fill="#000" rx="9" stroke="#343434" stroke-width="1.7"/>
<text x="1795.0" y="333.0" font-family="'Liberation Sans', sans-serif" font-size="32.70" textLength="83.0" lengthAdjust="spacingAndGlyphs" stroke="#fff" stroke-width="1.5" xml:space="preserve">AUTO</text>
<text x="1805.0" y="366.5" font-family="'Liberation Sans', sans-serif" font-size="32.70" textLength="62.0" lengthAdjust="spacingAndGlyphs" stroke="#fff" stroke-width="1.5" xml:space="preserve">SET</text>
<rect x="1774.3" y="416.5" width="123.9" height="114.0" fill="#000" rx="9" stroke="#343434" stroke-width="1.7"/>
<text y="468.0" font-family="'Liberation Sans', sans-serif" font-size="32.70" stroke="#fff" stroke-width="1.5" xml:space="preserve"><tspan x="1793.8" textLength="22" lengthAdjust="spacingAndGlyphs">T</tspan><tspan x="1831" textLength="6" lengthAdjust="spacingAndGlyphs">  </tspan><tspan x="1838.3" textLength="43.5" lengthAdjust="spacingAndGlyphs">CU</tspan></text>
<text x="1793.8" y="501.5" font-family="'Liberation Sans', sans-serif" font-size="32.70" textLength="88.8" lengthAdjust="spacingAndGlyphs" stroke="#fff" stroke-width="1.5" xml:space="preserve">RSOR</text>
<rect x="1774.3" y="551.5" width="123.9" height="114.0" fill="#000" rx="9" stroke="#343434" stroke-width="1.7"/>
<text y="603.0" font-family="'Liberation Sans', sans-serif" font-size="32.70" stroke="#fff" stroke-width="1.5" xml:space="preserve"><tspan x="1793.8" textLength="22" lengthAdjust="spacingAndGlyphs">V</tspan><tspan x="1831" textLength="6" lengthAdjust="spacingAndGlyphs">  </tspan><tspan x="1838.3" textLength="43.5" lengthAdjust="spacingAndGlyphs">CU</tspan></text>
<text x="1793.8" y="636.5" font-family="'Liberation Sans', sans-serif" font-size="32.70" textLength="88.8" lengthAdjust="spacingAndGlyphs" stroke="#fff" stroke-width="1.5" xml:space="preserve">RSOR</text>
<rect x="1774.3" y="686.5" width="123.9" height="114.0" fill="#000" rx="9" stroke="#343434" stroke-width="1.7"/>
<text x="1793.0" y="738.0" font-family="'Liberation Sans', sans-serif" font-size="32.70" textLength="87.0" lengthAdjust="spacingAndGlyphs" stroke="#fff" stroke-width="1.5" xml:space="preserve">MEAS</text>
<text x="1793.5" y="771.5" font-family="'Liberation Sans', sans-serif" font-size="32.70" textLength="80.5" lengthAdjust="spacingAndGlyphs" stroke="#fff" stroke-width="1.5" xml:space="preserve">URES</text>
<rect x="1774.3" y="821.5" width="123.9" height="114.0" fill="#000" rx="9" stroke="#343434" stroke-width="1.7"/>
<text x="1794.0" y="873.0" font-family="'Liberation Sans', sans-serif" font-size="32.70" textLength="84.0" lengthAdjust="spacingAndGlyphs" stroke="#fff" stroke-width="1.5" xml:space="preserve">SAVE</text>
<text x="1811.0" y="906.5" font-family="'Liberation Sans', sans-serif" font-size="32.70" textLength="52.0" lengthAdjust="spacingAndGlyphs" stroke="#fff" stroke-width="1.5" xml:space="preserve">PIC</text>
<rect x="1774.3" y="956.5" width="123.9" height="114.0" fill="#000" rx="9" stroke="#343434" stroke-width="1.7"/>
<text x="1794.0" y="1008.0" font-family="'Liberation Sans', sans-serif" font-size="32.70" textLength="84.0" lengthAdjust="spacingAndGlyphs" stroke="#fff" stroke-width="1.5" xml:space="preserve">SAVE</text>
<text x="1789.0" y="1041.5" font-family="'Liberation Sans', sans-serif" font-size="32.70" textLength="94.0" lengthAdjust="spacingAndGlyphs" stroke="#fff" stroke-width="1.5" xml:space="preserve">WAVE</text>
<rect x="8.0" y="959.3" width="341.3" height="55.2" fill="#1e1e1e" rx="7"/>
<rect x="13.7" y="964.8" width="46.8" height="43.5" fill="#ffff00"/>
<text x="27.5" y="997.1" font-family="'Liberation Mono', monospace" font-size="33.40" font-weight="bold" fill="#000" textLength="20.0" lengthAdjust="spacingAndGlyphs" xml:space="preserve">1</text>
<text y="997.3" font-family="'DejaVu Sans Mono', 'Liberation Mono', monospace" font-size="34.29" stroke="#fff" stroke-width="0.9" xml:space="preserve"><tspan x="75.5" textLength="98.5" lengthAdjust="spacingAndGlyphs">Vmax</tspan><tspan x="177.8">:</tspan></text>
<text x="203.5" y="999.6" font-family="'Liberation Mono', monospace" font-size="34.92" font-weight="bold" textLength="114.9" lengthAdjust="spacingAndGlyphs" xml:space="preserve">+1.82V</text>
<rect x="8.0" y="1020.2" width="341.3" height="55.2" fill="#1e1e1e" rx="7"/>
<rect x="13.7" y="1025.7" width="46.8" height="43.5" fill="#ffff00"/>
<text x="27.5" y="1058.0" font-family="'Liberation Mono', monospace" font-size="33.40" font-weight="bold" fill="#000" textLength="20.0" lengthAdjust="spacingAndGlyphs" xml:space="preserve">1</text>
<text y="1058.2" font-family="'DejaVu Sans Mono', 'Liberation Mono', monospace" font-size="34.29" stroke="#fff" stroke-width="0.9" xml:space="preserve"><tspan x="91.0" textLength="70.0" lengthAdjust="spacingAndGlyphs">VPP</tspan><tspan x="171.0" textLength="6.8" lengthAdjust="spacingAndGlyphs"> </tspan><tspan x="177.8">:</tspan></text>
<text x="203.5" y="1060.5" font-family="'Liberation Mono', monospace" font-size="34.92" font-weight="bold" textLength="38.3" lengthAdjust="spacingAndGlyphs" xml:space="preserve">0V</text>
<rect x="356.2" y="959.3" width="341.3" height="55.2" fill="#1e1e1e" rx="7"/>
<rect x="361.9" y="964.8" width="46.8" height="43.5" fill="#ffff00"/>
<text x="375.7" y="997.1" font-family="'Liberation Mono', monospace" font-size="33.40" font-weight="bold" fill="#000" textLength="20.0" lengthAdjust="spacingAndGlyphs" xml:space="preserve">1</text>
<text y="997.3" font-family="'DejaVu Sans Mono', 'Liberation Mono', monospace" font-size="34.29" stroke="#fff" stroke-width="0.9" xml:space="preserve"><tspan x="426.2" textLength="93.0" lengthAdjust="spacingAndGlyphs">Vmin</tspan><tspan x="526.0">:</tspan></text>
<text x="551.7" y="999.6" font-family="'Liberation Mono', monospace" font-size="34.92" font-weight="bold" textLength="114.9" lengthAdjust="spacingAndGlyphs" xml:space="preserve">+450mV</text>
<rect x="356.2" y="1020.2" width="341.3" height="55.2" fill="#1e1e1e" rx="7"/>
<rect x="361.9" y="1025.7" width="46.8" height="43.5" fill="#ffff00"/>
<text x="375.7" y="1058.0" font-family="'Liberation Mono', monospace" font-size="33.40" font-weight="bold" fill="#000" textLength="20.0" lengthAdjust="spacingAndGlyphs" xml:space="preserve">1</text>
<text y="1058.2" font-family="'DejaVu Sans Mono', 'Liberation Mono', monospace" font-size="34.29" stroke="#fff" stroke-width="0.9" xml:space="preserve"><tspan x="426.2" textLength="93.0" lengthAdjust="spacingAndGlyphs">Vrms</tspan><tspan x="526.0">:</tspan></text>
<text x="551.7" y="1060.5" font-family="'Liberation Mono', monospace" font-size="34.92" font-weight="bold" textLength="95.8" lengthAdjust="spacingAndGlyphs" xml:space="preserve">1.16V</text>
<rect x="704.3" y="959.3" width="341.3" height="55.2" fill="#1e1e1e" rx="7"/>
<rect x="710.0" y="964.8" width="46.8" height="43.5" fill="#ffff00"/>
<text x="723.8" y="997.1" font-family="'Liberation Mono', monospace" font-size="33.40" font-weight="bold" fill="#000" textLength="20.0" lengthAdjust="spacingAndGlyphs" xml:space="preserve">1</text>
<text y="997.3" font-family="'DejaVu Sans Mono', 'Liberation Mono', monospace" font-size="34.29" stroke="#fff" stroke-width="0.9" xml:space="preserve"><tspan x="762.8" textLength="112.5" lengthAdjust="spacingAndGlyphs">Duty+</tspan><tspan x="874.1">:</tspan></text>
<text x="899.8" y="999.6" font-family="'Liberation Mono', monospace" font-size="34.92" font-weight="bold" textLength="38.3" lengthAdjust="spacingAndGlyphs" xml:space="preserve">0%</text>
<rect x="704.3" y="1020.2" width="341.3" height="55.2" fill="#1e1e1e" rx="7"/>
<rect x="710.0" y="1025.7" width="46.8" height="43.5" fill="#ffff00"/>
<text x="723.8" y="1058.0" font-family="'Liberation Mono', monospace" font-size="33.40" font-weight="bold" fill="#000" textLength="20.0" lengthAdjust="spacingAndGlyphs" xml:space="preserve">1</text>
<text y="1058.2" font-family="'DejaVu Sans Mono', 'Liberation Mono', monospace" font-size="34.29" stroke="#fff" stroke-width="0.9" xml:space="preserve"><tspan x="780.8" textLength="84.5" lengthAdjust="spacingAndGlyphs">Freq</tspan><tspan x="874.1">:</tspan></text>
<text x="899.8" y="1060.5" font-family="'Liberation Mono', monospace" font-size="34.92" font-weight="bold" textLength="57.4" lengthAdjust="spacingAndGlyphs" xml:space="preserve">0Hz</text>
<rect x="1052.4" y="959.3" width="341.3" height="55.2" fill="#1e1e1e" rx="7"/>
<rect x="1058.1" y="964.8" width="46.8" height="43.5" fill="#00ffff"/>
<text x="1071.9" y="997.1" font-family="'Liberation Mono', monospace" font-size="33.40" font-weight="bold" fill="#000" textLength="20.0" lengthAdjust="spacingAndGlyphs" xml:space="preserve">2</text>
<text y="997.3" font-family="'DejaVu Sans Mono', 'Liberation Mono', monospace" font-size="34.29" stroke="#fff" stroke-width="0.9" xml:space="preserve"><tspan x="1119.9" textLength="98.5" lengthAdjust="spacingAndGlyphs">Vmax</tspan><tspan x="1222.2">:</tspan></text>
<text x="1247.9" y="999.6" font-family="'Liberation Mono', monospace" font-size="34.92" font-weight="bold" textLength="57.4" lengthAdjust="spacingAndGlyphs" xml:space="preserve">+0V</text>
<rect x="1052.4" y="1020.2" width="341.3" height="55.2" fill="#1e1e1e" rx="7"/>
<rect x="1058.1" y="1025.7" width="46.8" height="43.5" fill="#00ffff"/>
<text x="1071.9" y="1058.0" font-family="'Liberation Mono', monospace" font-size="33.40" font-weight="bold" fill="#000" textLength="20.0" lengthAdjust="spacingAndGlyphs" xml:space="preserve">2</text>
<text y="1058.2" font-family="'DejaVu Sans Mono', 'Liberation Mono', monospace" font-size="34.29" stroke="#fff" stroke-width="0.9" xml:space="preserve"><tspan x="1135.4" textLength="70.0" lengthAdjust="spacingAndGlyphs">VPP</tspan><tspan x="1215.4" textLength="6.8" lengthAdjust="spacingAndGlyphs"> </tspan><tspan x="1222.2">:</tspan></text>
<text x="1247.9" y="1060.5" font-family="'Liberation Mono', monospace" font-size="34.92" font-weight="bold" textLength="38.3" lengthAdjust="spacingAndGlyphs" xml:space="preserve">0V</text>
<rect x="1400.5" y="959.3" width="341.3" height="55.2" fill="#1e1e1e" rx="7"/>
<rect x="1406.2" y="964.8" width="46.8" height="43.5" fill="#00ffff"/>
<text x="1420.0" y="997.1" font-family="'Liberation Mono', monospace" font-size="33.40" font-weight="bold" fill="#000" textLength="20.0" lengthAdjust="spacingAndGlyphs" xml:space="preserve">2</text>
<text y="997.3" font-family="'DejaVu Sans Mono', 'Liberation Mono', monospace" font-size="34.29" stroke="#fff" stroke-width="0.9" xml:space="preserve"><tspan x="1459.0" textLength="112.5" lengthAdjust="spacingAndGlyphs">Duty+</tspan><tspan x="1570.3">:</tspan></text>
<text x="1596.0" y="999.6" font-family="'Liberation Mono', monospace" font-size="34.92" font-weight="bold" textLength="38.3" lengthAdjust="spacingAndGlyphs" xml:space="preserve">0%</text>
<rect x="1400.5" y="1020.2" width="341.3" height="55.2" fill="#1e1e1e" rx="7"/>
<rect x="1406.2" y="1025.7" width="46.8" height="43.5" fill="#00ffff"/>
<text x="1420.0" y="1058.0" font-family="'Liberation Mono', monospace" font-size="33.40" font-weight="bold" fill="#000" textLength="20.0" lengthAdjust="spacingAndGlyphs" xml:space="preserve">2</text>
<text y="1058.2" font-family="'DejaVu Sans Mono', 'Liberation Mono', monospace" font-size="34.29" stroke="#fff" stroke-width="0.9" xml:space="preserve"><tspan x="1477.0" textLength="84.5" lengthAdjust="spacingAndGlyphs">Freq</tspan><tspan x="1570.3">:</tspan></text>
<text x="1596.0" y="1060.5" font-family="'Liberation Mono', monospace" font-size="34.92" font-weight="bold" textLength="57.4" lengthAdjust="spacingAndGlyphs" xml:space="preserve">0Hz</text>
</g>
<g transform="translate(1980,1120)">
<rect x="0.0" y="0.0" width="1920.0" height="1080.0" fill="#000"/>
<g clip-path="url(#plotclip)">
<g><line x1="35" x2="35" y1="99.65" y2="960" stroke="#4a4a4a" stroke-width="2.2" stroke-dasharray="2.2 9.05"/><line x1="155" x2="155" y1="99.65" y2="960" stroke="#4a4a4a" stroke-width="2.2" stroke-dasharray="2.2 9.05"/><line x1="275" x2="275" y1="99.65" y2="960" stroke="#4a4a4a" stroke-width="2.2" stroke-dasharray="2.2 9.05"/><line x1="395" x2="395" y1="99.65" y2="960" stroke="#4a4a4a" stroke-width="2.2" stroke-dasharray="2.2 9.05"/><line x1="515" x2="515" y1="99.65" y2="960" stroke="#4a4a4a" stroke-width="2.2" stroke-dasharray="2.2 9.05"/><line x1="635" x2="635" y1="99.65" y2="960" stroke="#4a4a4a" stroke-width="2.2" stroke-dasharray="2.2 9.05"/><line x1="755" x2="755" y1="99.65" y2="960" stroke="#4a4a4a" stroke-width="2.2" stroke-dasharray="2.2 9.05"/><line x1="995" x2="995" y1="99.65" y2="960" stroke="#4a4a4a" stroke-width="2.2" stroke-dasharray="2.2 9.05"/><line x1="1115" x2="1115" y1="99.65" y2="960" stroke="#4a4a4a" stroke-width="2.2" stroke-dasharray="2.2 9.05"/><line x1="1235" x2="1235" y1="99.65" y2="960" stroke="#4a4a4a" stroke-width="2.2" stroke-dasharray="2.2 9.05"/><line x1="1355" x2="1355" y1="99.65" y2="960" stroke="#4a4a4a" stroke-width="2.2" stroke-dasharray="2.2 9.05"/><line x1="1475" x2="1475" y1="99.65" y2="960" stroke="#4a4a4a" stroke-width="2.2" stroke-dasharray="2.2 9.05"/><line x1="1595" x2="1595" y1="99.65" y2="960" stroke="#4a4a4a" stroke-width="2.2" stroke-dasharray="2.2 9.05"/><line x1="1715" x2="1715" y1="99.65" y2="960" stroke="#4a4a4a" stroke-width="2.2" stroke-dasharray="2.2 9.05"/><line y1="224.5" y2="224.5" x1="9.90" x2="1742" stroke="#4a4a4a" stroke-width="2.2" stroke-dasharray="2.2 9.8"/><line y1="337.0" y2="337.0" x1="9.90" x2="1742" stroke="#4a4a4a" stroke-width="2.2" stroke-dasharray="2.2 9.8"/><line y1="449.5" y2="449.5" x1="9.90" x2="1742" stroke="#4a4a4a" stroke-width="2.2" stroke-dasharray="2.2 9.8"/><line y1="674.5" y2="674.5" x1="9.90" x2="1742" stroke="#4a4a4a" stroke-width="2.2" stroke-dasharray="2.2 9.8"/><line y1="787.0" y2="787.0" x1="9.90" x2="1742" stroke="#4a4a4a" stroke-width="2.2" stroke-dasharray="2.2 9.8"/><line y1="899.5" y2="899.5" x1="9.90" x2="1742" stroke="#4a4a4a" stroke-width="2.2" stroke-dasharray="2.2 9.8"/><line x1="875" x2="875" y1="106" y2="956" stroke="#403a40" stroke-width="2.4"/><line y1="562" y2="562" x1="7" x2="1742" stroke="#403a40" stroke-width="2.4"/><line x1="875" x2="875" y1="99.55" y2="960" stroke="#403a40" stroke-width="13" stroke-dasharray="2.4 8.85"/><line y1="562" y2="562" x1="9.80" x2="1742" stroke="#403a40" stroke-width="11" stroke-dasharray="2.4 9.6"/></g>
<line x1="12" x2="1735.5" y1="595.3" y2="595.3" stroke="#00ff00" stroke-width="2.5" stroke-dasharray="9.6 4.8"/>
<line x1="12" x2="1735.5" y1="854" y2="854" stroke="#00ff00" stroke-width="2.5" stroke-dasharray="9.6 4.8"/>
<line x1="630.4" x2="630.4" y1="107" y2="956" stroke="#00ff00" stroke-width="2.6" stroke-dasharray="9 4.5"/>
<line x1="673.4" x2="673.4" y1="107" y2="956" stroke="#00ff00" stroke-width="2.6" stroke-dasharray="9 4.5"/>
<polyline points="7.5,896.4 16.9,895.2 22.9,883.1 28.9,894.0 38.5,892.8 106.0,892.8 108.5,887.6 114.3,893.4 124.0,892.4 127.9,884.6 132.8,876.9 137.6,869.1 141.5,857.5 143.4,843.9 144.4,837.4 150.4,830.1 152.8,806.0 154.0,774.7 161.3,779.5 162.5,750.7 164.9,714.5 168.5,690.4 173.3,666.3 178.1,630.2 181.7,610.9 185.4,582.0 187.8,570.0 190.0,551.6 195.7,506.0 199.5,487.0 207.1,445.1 212.8,410.9 218.5,388.0 224.3,365.2 230.0,350.0 237.6,338.6 246.5,331.0 253.0,338.6 256.8,353.8 258.7,407.0 261.7,448.9 263.6,509.8 265.5,551.6 266.9,570.0 267.9,647.1 270.3,690.4 271.7,762.7 273.4,810.9 275.3,840.0 276.3,869.1 278.2,904.0 279.2,937.0 287.0,937.0 287.9,923.5 290.8,904.0 292.8,884.6 296.7,868.1 299.6,878.8 303.5,896.3 307.3,917.6 310.8,925.4 315.1,913.8 318.0,896.3 320.9,880.8 324.8,876.9 327.7,884.6 332.6,900.2 338.4,909.9 342.3,896.3 347.1,890.5 352.0,887.6 357.8,892.4 363.6,895.3 370.4,892.4 418.0,892.4 420.9,896.3 425.7,893.4 432.5,892.4 437.4,887.6 443.2,893.4 452.9,892.4 456.8,884.6 461.7,876.9 466.5,869.1 470.4,857.5 472.3,843.9 473.3,837.4 479.3,830.1 481.7,806.0 482.9,774.7 490.2,779.5 491.4,750.7 493.8,714.5 497.4,690.4 502.2,666.3 507.0,630.2 510.6,610.9 514.3,582.0 516.7,570.0 518.9,551.8 524.6,507.3 528.4,488.8 536.0,448.0 541.7,414.6 547.4,392.3 553.2,370.0 558.9,355.2 566.5,344.1 575.4,336.7 581.7,344.1 585.5,358.9 587.4,410.8 590.4,451.7 592.3,511.0 594.2,551.8 595.6,570.0 596.6,647.1 599.0,690.4 600.4,762.7 602.1,810.9 604.0,840.0 605.0,869.1 606.9,904.0 607.9,937.0 615.7,937.0 616.6,923.5 619.5,904.0 621.5,884.6 625.4,868.1 628.3,878.8 632.2,896.3 636.0,917.6 639.5,925.4 643.8,913.8 646.7,896.3 649.6,880.8 653.5,876.9 656.4,884.6 661.3,900.2 667.1,909.9 671.0,896.3 675.8,890.5 680.7,887.6 686.5,892.4 692.3,895.3 699.1,892.4 746.7,892.4 749.6,896.3 754.4,893.4 761.2,892.4 766.1,887.6 771.9,893.4 781.6,892.4 785.5,884.6 790.4,876.9 795.2,869.1 799.1,857.5 801.0,843.9 802.0,837.4 808.0,830.1 810.4,806.0 811.6,774.7 818.9,779.5 820.1,750.7 822.5,714.5 826.1,690.4 830.9,666.3 835.7,630.2 839.3,610.9 843.0,582.0 845.4,570.0 847.6,551.6 853.3,506.0 857.1,487.0 864.7,445.1 870.4,410.9 876.1,388.0 881.9,365.2 887.6,350.0 895.2,338.6 904.1,331.0 911.2,338.6 915.0,353.8 916.9,407.0 919.9,448.9 921.8,509.8 923.7,551.6 925.1,570.0 926.1,647.1 928.5,690.4 929.9,762.7 931.6,810.9 933.5,840.0 934.5,869.1 936.4,904.0 937.4,937.0 945.2,937.0 946.1,923.5 949.0,904.0 951.0,884.6 954.9,868.1 957.8,878.8 961.7,896.3 965.5,917.6 969.0,925.4 973.3,913.8 976.2,896.3 979.1,880.8 983.0,876.9 985.9,884.6 990.8,900.2 996.6,909.9 1000.5,896.3 1005.3,890.5 1010.2,887.6 1016.0,892.4 1021.8,895.3 1028.6,892.4 1076.2,892.4 1079.1,896.3 1083.9,893.4 1090.7,892.4 1095.6,887.6 1101.4,893.4 1111.1,892.4 1115.0,884.6 1119.9,876.9 1124.7,869.1 1128.6,857.5 1130.5,843.9 1131.5,837.4 1137.5,830.1 1139.9,806.0 1141.1,774.7 1148.4,779.5 1149.6,750.7 1152.0,714.5 1155.6,690.4 1160.4,666.3 1165.2,630.2 1168.8,610.9 1172.5,582.0 1174.9,570.0 1177.1,551.9 1182.8,508.2 1186.6,490.0 1194.2,449.9 1199.9,417.1 1205.6,395.1 1211.4,373.3 1217.1,358.7 1224.7,347.8 1233.6,340.5 1239.4,347.8 1243.2,362.4 1245.1,413.3 1248.1,453.5 1250.0,511.9 1251.9,551.9 1253.3,570.0 1254.3,647.1 1256.7,690.4 1258.1,762.7 1259.8,810.9 1261.7,840.0 1262.7,869.1 1264.6,904.0 1265.6,937.0 1273.4,937.0 1274.3,923.5 1277.2,904.0 1279.2,884.6 1283.1,868.1 1286.0,878.8 1289.9,896.3 1293.7,917.6 1297.2,925.4 1301.5,913.8 1304.4,896.3 1307.3,880.8 1311.2,876.9 1314.1,884.6 1319.0,900.2 1324.8,909.9 1328.7,896.3 1333.5,890.5 1338.4,887.6 1344.2,892.4 1350.0,895.3 1356.8,892.4 1404.4,892.4 1407.3,896.3 1412.1,893.4 1418.9,892.4 1423.8,887.6 1429.6,893.4 1439.3,892.4 1443.2,884.6 1448.1,876.9 1452.9,869.1 1456.8,857.5 1458.7,843.9 1459.7,837.4 1465.7,830.1 1468.1,806.0 1469.3,774.7 1476.6,779.5 1477.8,750.7 1480.2,714.5 1483.8,690.4 1488.6,666.3 1493.4,630.2 1497.0,610.9 1500.7,582.0 1503.1,570.0 1505.3,551.6 1511.0,506.0 1514.8,487.0 1522.4,445.1 1528.1,410.9 1533.8,388.0 1539.6,365.2 1545.3,350.0 1552.9,338.6 1561.8,331.0 1568.5,338.6 1572.3,353.8 1574.2,407.0 1577.2,448.9 1579.1,509.8 1581.0,551.6 1582.4,570.0 1583.4,647.1 1585.8,690.4 1587.2,762.7 1588.9,810.9 1590.8,840.0 1591.8,869.1 1593.7,904.0 1594.7,937.0 1602.5,937.0 1603.4,923.5 1606.3,904.0 1608.3,884.6 1612.2,868.1 1615.1,878.8 1619.0,896.3 1622.8,917.6 1626.3,925.4 1630.6,913.8 1633.5,896.3 1636.4,880.8 1640.3,876.9 1643.2,884.6 1648.1,900.2 1653.9,909.9 1657.8,896.3 1662.6,890.5 1667.5,887.6 1673.3,892.4 1679.1,895.3 1685.9,892.4 1733.5,892.4 1736.4,896.3 1741.2,893.4 1741.5,893.4" fill="none" stroke="#ffff00" stroke-width="3.7" stroke-linejoin="round" stroke-linecap="square"/><polyline points="7.2,703.2 10.7,714.5 14.3,690.4 18.0,654.3 21.6,639.8 25.2,636.2 30.0,649.5 33.6,671.2 37.2,679.6 40.8,671.2 44.4,654.3 50.5,641.1 56.5,647.1 63.7,662.7 70.9,654.3 79.4,642.3 85.4,644.7 90.2,651.9 92.1,666.3 93.8,700.1 96.2,729.0 98.6,757.9 102.3,779.6 107.1,783.2 111.9,791.6 115.5,810.9 119.1,832.5 122.7,842.2 128.8,845.8 139.6,843.4 143.2,854.2 150.4,868.7 158.9,871.1 163.7,883.1 169.7,895.2 176.9,898.8 184.2,904.8 191.4,913.2 198.6,904.8 210.7,904.8 217.9,909.6 229.9,909.6 237.1,904.8 243.2,897.6 244.5,902.4 246.2,866.3 249.3,854.2 251.7,818.1 252.9,774.7 256.5,753.1 258.9,733.8 261.3,714.5 265.0,700.1 268.6,686.8 272.2,686.8 274.1,714.5 276.5,743.4 278.2,796.4 280.6,847.0 284.2,871.1 286.6,888.0 289.0,888.0 290.2,830.1 292.7,760.3 295.1,680.8 296.8,630.2 298.2,594.1 301.1,584.5 301.6,642.3 304.0,704.9 307.1,743.4 308.8,784.4 311.2,784.4 313.1,765.1 317.9,757.9 319.2,712.1 321.6,666.3 323.2,637.4 325.2,606.1 327.6,630.2 330.0,666.3 333.6,695.2 339.6,714.5 343.2,690.4 346.9,654.3 350.5,639.8 354.1,636.2 358.9,649.5 362.5,671.2 366.1,679.6 369.7,671.2 373.3,654.3 379.4,641.1 385.4,647.1 392.6,662.7 399.8,654.3 408.3,642.3 414.3,644.7 419.1,651.9 421.0,666.3 422.7,700.1 425.1,729.0 427.5,757.9 431.2,779.6 436.0,783.2 440.8,791.6 444.4,810.9 448.0,832.5 451.6,842.2 457.7,845.8 468.5,843.4 472.1,854.2 479.3,868.7 487.8,871.1 492.6,883.1 498.6,895.2 505.8,898.8 513.1,904.8 520.3,913.2 527.5,904.8 539.6,904.8 546.8,909.6 558.8,909.6 566.0,904.8 572.1,897.6 573.2,902.4 574.9,866.3 578.0,854.2 580.4,818.1 581.6,774.7 585.2,753.1 587.6,733.8 590.0,714.5 593.7,700.1 597.3,686.8 600.9,686.8 602.8,714.5 605.2,743.4 606.9,796.4 609.3,847.0 612.9,871.1 615.3,888.0 617.7,888.0 618.9,830.1 621.4,760.3 623.8,680.8 625.5,630.2 626.9,594.1 629.8,584.5 630.3,642.3 632.7,704.9 635.8,743.4 637.5,784.4 639.9,784.4 641.8,765.1 646.6,757.9 647.9,712.1 650.3,666.3 651.9,637.4 653.9,606.1 656.3,630.2 658.7,666.3 662.3,695.2 668.3,714.5 671.9,690.4 675.6,654.3 679.2,639.8 682.8,636.2 687.6,649.5 691.2,671.2 694.8,679.6 698.4,671.2 702.0,654.3 708.1,641.1 714.1,647.1 721.3,662.7 728.5,654.3 737.0,642.3 743.0,644.7 747.8,651.9 749.7,666.3 751.4,700.1 753.8,729.0 756.2,757.9 759.9,779.6 764.7,783.2 769.5,791.6 773.1,810.9 776.7,832.5 780.3,842.2 786.4,845.8 797.2,843.4 800.8,854.2 808.0,868.7 816.5,871.1 821.3,883.1 827.3,895.2 834.5,898.8 841.8,904.8 849.0,913.2 856.2,904.8 868.3,904.8 875.5,909.6 887.5,909.6 894.7,904.8 900.8,897.6 902.7,902.4 904.4,866.3 907.5,854.2 909.9,818.1 911.1,774.7 914.7,753.1 917.1,733.8 919.5,714.5 923.2,700.1 926.8,686.8 930.4,686.8 932.3,714.5 934.7,743.4 936.4,796.4 938.8,847.0 942.4,871.1 944.8,888.0 947.2,888.0 948.4,830.1 950.9,760.3 953.3,680.8 955.0,630.2 956.4,594.1 959.3,584.5 959.8,642.3 962.2,704.9 965.3,743.4 967.0,784.4 969.4,784.4 971.3,765.1 976.1,757.9 977.4,712.1 979.8,666.3 981.4,637.4 983.4,606.1 985.8,630.2 988.2,666.3 991.8,695.2 997.8,714.5 1001.4,690.4 1005.1,654.3 1008.7,639.8 1012.3,636.2 1017.1,649.5 1020.7,671.2 1024.3,679.6 1027.9,671.2 1031.5,654.3 1037.6,641.1 1043.6,647.1 1050.8,662.7 1058.0,654.3 1066.5,642.3 1072.5,644.7 1077.3,651.9 1079.2,666.3 1080.9,700.1 1083.3,729.0 1085.7,757.9 1089.4,779.6 1094.2,783.2 1099.0,791.6 1102.6,810.9 1106.2,832.5 1109.8,842.2 1115.9,845.8 1126.7,843.4 1130.3,854.2 1137.5,868.7 1146.0,871.1 1150.8,883.1 1156.8,895.2 1164.0,898.8 1171.3,904.8 1178.5,913.2 1185.7,904.8 1197.8,904.8 1205.0,909.6 1217.0,909.6 1224.2,904.8 1230.3,897.6 1230.9,902.4 1232.6,866.3 1235.7,854.2 1238.1,818.1 1239.3,774.7 1242.9,753.1 1245.3,733.8 1247.7,714.5 1251.4,700.1 1255.0,686.8 1258.6,686.8 1260.5,714.5 1262.9,743.4 1264.6,796.4 1267.0,847.0 1270.6,871.1 1273.0,888.0 1275.4,888.0 1276.6,830.1 1279.1,760.3 1281.5,680.8 1283.2,630.2 1284.6,594.1 1287.5,584.5 1288.0,642.3 1290.4,704.9 1293.5,743.4 1295.2,784.4 1297.6,784.4 1299.5,765.1 1304.3,757.9 1305.6,712.1 1308.0,666.3 1309.6,637.4 1311.6,606.1 1314.0,630.2 1316.4,666.3 1320.0,695.2 1326.0,714.5 1329.6,690.4 1333.3,654.3 1336.9,639.8 1340.5,636.2 1345.3,649.5 1348.9,671.2 1352.5,679.6 1356.1,671.2 1359.7,654.3 1365.8,641.1 1371.8,647.1 1379.0,662.7 1386.2,654.3 1394.7,642.3 1400.7,644.7 1405.5,651.9 1407.4,666.3 1409.1,700.1 1411.5,729.0 1413.9,757.9 1417.6,779.6 1422.4,783.2 1427.2,791.6 1430.8,810.9 1434.4,832.5 1438.0,842.2 1444.1,845.8 1454.9,843.4 1458.5,854.2 1465.7,868.7 1474.2,871.1 1479.0,883.1 1485.0,895.2 1492.2,898.8 1499.5,904.8 1506.7,913.2 1513.9,904.8 1526.0,904.8 1533.2,909.6 1545.2,909.6 1552.4,904.8 1558.5,897.6 1560.0,902.4 1561.7,866.3 1564.8,854.2 1567.2,818.1 1568.4,774.7 1572.0,753.1 1574.4,733.8 1576.8,714.5 1580.5,700.1 1584.1,686.8 1587.7,686.8 1589.6,714.5 1592.0,743.4 1593.7,796.4 1596.1,847.0 1599.7,871.1 1602.1,888.0 1604.5,888.0 1605.7,830.1 1608.2,760.3 1610.6,680.8 1612.3,630.2 1613.7,594.1 1616.6,584.5 1617.1,642.3 1619.5,704.9 1622.6,743.4 1624.3,784.4 1626.7,784.4 1628.6,765.1 1633.4,757.9 1634.7,712.1 1637.1,666.3 1638.7,637.4 1640.7,606.1 1643.1,630.2 1645.5,666.3 1649.1,695.2 1655.1,714.5 1658.7,690.4 1662.4,654.3 1666.0,639.8 1669.6,636.2 1674.4,649.5 1678.0,671.2 1681.6,679.6 1685.2,671.2 1688.8,654.3 1694.9,641.1 1700.9,647.1 1708.1,662.7 1715.3,654.3 1723.8,642.3 1729.8,644.7 1734.6,651.9 1736.5,666.3 1738.2,700.1 1740.0,721.8" fill="none" stroke="#00ffff" stroke-width="3.7" stroke-linejoin="round" stroke-linecap="square"/>
</g>
<path d="M6.2,955 V104.7 H1743.6 V955" fill="none" stroke="#4c464c" stroke-width="2.5"/>
<path d="M4.7,894.7 H36 L53,912 L36,929.3 H4.7 Z" fill="#ffff00"/>
<text x="13.0" y="923.0" font-family="'Liberation Mono', monospace" font-size="33.40" font-weight="bold" fill="#000" xml:space="preserve">1</text>
<path d="M4.7,898.3000000000001 H36 L53,915.6 L36,932.9 H4.7 Z" fill="#00ffff"/>
<text x="12.5" y="926.6" font-family="'Liberation Mono', monospace" font-size="34.16" font-weight="bold" fill="#000" textLength="20.0" lengthAdjust="spacingAndGlyphs" xml:space="preserve">2</text>
<path d="M1745,763.3000000000001 H1714 L1696.5,780.6 L1714,797.9 H1745 Z" fill="#00ff00"/>
<text x="1717.5" y="792.6" font-family="'Liberation Sans', sans-serif" font-size="32.27" font-weight="bold" fill="#000" textLength="21.0" lengthAdjust="spacingAndGlyphs" xml:space="preserve">T</text>
<rect x="12.3" y="110.3" width="235.0" height="148.3" fill="#404040" rx="7" stroke="#555" stroke-width="1.5"/>
<text x="23.3" y="142.5" font-family="'Liberation Mono', monospace" font-size="34.92" font-weight="bold" textLength="153.2" lengthAdjust="spacingAndGlyphs" xml:space="preserve">T = 90nS</text>
<text x="23.3" y="178.5" font-family="'Liberation Mono', monospace" font-size="34.92" font-weight="bold" textLength="210.6" lengthAdjust="spacingAndGlyphs" xml:space="preserve">F = 11.1MHz</text>
<text x="23.3" y="214.5" font-family="'Liberation Mono', monospace" font-size="34.92" font-weight="bold" textLength="191.5" lengthAdjust="spacingAndGlyphs" xml:space="preserve">V1 = 5.75V</text>
<text x="23.3" y="250.5" font-family="'Liberation Mono', monospace" font-size="34.92" font-weight="bold" textLength="191.5" lengthAdjust="spacingAndGlyphs" xml:space="preserve">V2 = 11.5V</text>
<path d="M890.2,107.5 H922.2 V128 L906.2,143.6 L890.2,128 Z" fill="#00ff00"/>
<text x="885.3" y="219.0" font-family="'Liberation Sans', sans-serif" font-size="47.38" textLength="693.0" lengthAdjust="spacingAndGlyphs" stroke="#fff" stroke-width="0.7" xml:space="preserve">PRIMARY FREQUENCY TOO LOW,</text>
<text x="778.8" y="277.8" font-family="'Liberation Sans', sans-serif" font-size="47.38" textLength="906.0" lengthAdjust="spacingAndGlyphs" stroke="#fff" stroke-width="0.7" xml:space="preserve">REDUCE NUMBER OF TURNS ON PRIMARY</text>
<rect x="0.0" y="0.0" width="192.0" height="89.6" fill="#000078"/>
<rect x="9.0" y="27.0" width="19.4" height="18.2" fill="#fff"/>
<rect x="9.0" y="47.8" width="19.4" height="17.8" fill="#fff"/>
<rect x="31.6" y="27.0" width="19.1" height="18.2" fill="#fff"/>
<rect x="31.6" y="47.8" width="19.1" height="17.8" fill="#fff"/>
<text x="63.0" y="58.7" font-family="'Liberation Sans', sans-serif" font-size="39.24" textLength="116.0" lengthAdjust="spacingAndGlyphs" stroke="#fff" stroke-width="1.2" xml:space="preserve">MENU</text>
<text x="255.0" y="60.3" font-family="'Liberation Sans', sans-serif" font-size="34.88" font-weight="bold" textLength="63.0" lengthAdjust="spacingAndGlyphs" xml:space="preserve">RUN</text>
<rect x="386.0" y="11.2" width="75.4" height="81.0" fill="#ffff00"/>
<text x="397.0" y="60.5" font-family="'Liberation Sans', sans-serif" font-size="24.27" font-weight="bold" fill="#000" textLength="50.0" lengthAdjust="spacingAndGlyphs" xml:space="preserve">CH1</text>
<text x="476.5" y="43.0" font-family="'Liberation Sans', sans-serif" font-size="26.16" font-weight="bold" textLength="93.0" lengthAdjust="spacingAndGlyphs" xml:space="preserve">DC  1X</text>
<text x="476.5" y="78.3" font-family="'Liberation Sans', sans-serif" font-size="24.42" font-weight="bold" textLength="112.0" lengthAdjust="spacingAndGlyphs" xml:space="preserve">2.5V/div</text>
<rect x="691.0" y="11.2" width="75.0" height="81.0" fill="#00ffff"/>
<text x="702.0" y="60.5" font-family="'Liberation Sans', sans-serif" font-size="24.27" font-weight="bold" fill="#000" textLength="52.5" lengthAdjust="spacingAndGlyphs" xml:space="preserve">CH2</text>
<text x="781.5" y="43.0" font-family="'Liberation Sans', sans-serif" font-size="26.16" font-weight="bold" textLength="93.0" lengthAdjust="spacingAndGlyphs" xml:space="preserve">DC  1X</text>
<text x="781.5" y="78.3" font-family="'Liberation Sans', sans-serif" font-size="24.42" font-weight="bold" textLength="88.0" lengthAdjust="spacingAndGlyphs" xml:space="preserve">5V/div</text>
<text x="963.0" y="63.0" font-family="'Liberation Mono', monospace" font-size="34.92" font-weight="bold" textLength="172.3" lengthAdjust="spacingAndGlyphs" xml:space="preserve">250nS/div</text>
<rect x="1181.7" y="12.2" width="94.4" height="79.0" fill="#00006e" rx="4" stroke="#0000a8" stroke-width="1.5"/>
<text x="1186.5" y="43.0" font-family="'Liberation Sans', sans-serif" font-size="34.30" font-weight="bold" textLength="87.0" lengthAdjust="spacingAndGlyphs" xml:space="preserve">move</text>
<text x="1192.0" y="78.0" font-family="'Liberation Sans', sans-serif" font-size="34.30" font-weight="bold" textLength="74.0" lengthAdjust="spacingAndGlyphs" xml:space="preserve">fast</text>
<rect x="1367.4" y="10.8" width="75.2" height="81.5" fill="#00ff00"/>
<text x="1396.0" y="63.0" font-family="'Liberation Sans', sans-serif" font-size="32.70" font-weight="bold" fill="#000" textLength="21.0" lengthAdjust="spacingAndGlyphs" xml:space="preserve">T</text>
<text x="1452.5" y="41.0" font-family="'Liberation Sans', sans-serif" font-size="28.49" font-weight="bold" textLength="64.0" lengthAdjust="spacingAndGlyphs" xml:space="preserve">Auto</text>
<rect x="1452.0" y="56.3" width="69.7" height="36.0" fill="#00ffff"/>
<text x="1460.5" y="83.4" font-family="'Liberation Sans', sans-serif" font-size="24.71" font-weight="bold" fill="#000" textLength="55.0" lengthAdjust="spacingAndGlyphs" xml:space="preserve">CH2</text>
<path d="M1551,61.2 H1543 V86.6 H1533 M1537.5,74 H1549" fill="none" stroke="#fff" stroke-width="2.6"/>
<rect x="1684.0" y="19.8" width="6.0" height="12.2" fill="#fff"/>
<rect x="1689.0" y="10.8" width="53.8" height="30.2" fill="#fff"/>
<rect x="1697.0" y="14.0" width="43.0" height="23.8" fill="#00b400"/>
<rect x="1773.8" y="11.7" width="124.8" height="113.7" fill="#333533" rx="9" stroke="#5a5a5a" stroke-width="2"/>
<text x="1796.0" y="78.8" font-family="'Liberation Sans', sans-serif" font-size="32.70" textLength="80.0" lengthAdjust="spacingAndGlyphs" stroke="#fff" stroke-width="1.5" xml:space="preserve">CTRL</text>
<rect x="1774.3" y="146.5" width="123.9" height="114.0" fill="#000" rx="9" stroke="#343434" stroke-width="1.7"/>
<text x="1793.5" y="198.0" font-family="'Liberation Sans', sans-serif" font-size="32.70" textLength="83.1" lengthAdjust="spacingAndGlyphs" stroke="#fff" stroke-width="1.5" xml:space="preserve">RUN/</text>
<text x="1793.5" y="231.5" font-family="'Liberation Sans', sans-serif" font-size="32.70" textLength="84.5" lengthAdjust="spacingAndGlyphs" stroke="#fff" stroke-width="1.5" xml:space="preserve">STOP</text>
<rect x="1774.3" y="281.5" width="123.9" height="114.0" fill="#000" rx="9" stroke="#343434" stroke-width="1.7"/>
<text x="1795.0" y="333.0" font-family="'Liberation Sans', sans-serif" font-size="32.70" textLength="83.0" lengthAdjust="spacingAndGlyphs" stroke="#fff" stroke-width="1.5" xml:space="preserve">AUTO</text>
<text x="1805.0" y="366.5" font-family="'Liberation Sans', sans-serif" font-size="32.70" textLength="62.0" lengthAdjust="spacingAndGlyphs" stroke="#fff" stroke-width="1.5" xml:space="preserve">SET</text>
<rect x="1774.3" y="416.5" width="123.9" height="114.0" fill="#000" rx="9" stroke="#343434" stroke-width="1.7"/>
<text y="468.0" font-family="'Liberation Sans', sans-serif" font-size="32.70" stroke="#fff" stroke-width="1.5" xml:space="preserve"><tspan x="1793.8" textLength="22" lengthAdjust="spacingAndGlyphs">T</tspan><tspan x="1831" textLength="6" lengthAdjust="spacingAndGlyphs">  </tspan><tspan x="1838.3" textLength="43.5" lengthAdjust="spacingAndGlyphs">CU</tspan></text>
<text x="1793.8" y="501.5" font-family="'Liberation Sans', sans-serif" font-size="32.70" textLength="88.8" lengthAdjust="spacingAndGlyphs" stroke="#fff" stroke-width="1.5" xml:space="preserve">RSOR</text>
<rect x="1774.3" y="551.5" width="123.9" height="114.0" fill="#000" rx="9" stroke="#343434" stroke-width="1.7"/>
<text y="603.0" font-family="'Liberation Sans', sans-serif" font-size="32.70" stroke="#fff" stroke-width="1.5" xml:space="preserve"><tspan x="1793.8" textLength="22" lengthAdjust="spacingAndGlyphs">V</tspan><tspan x="1831" textLength="6" lengthAdjust="spacingAndGlyphs">  </tspan><tspan x="1838.3" textLength="43.5" lengthAdjust="spacingAndGlyphs">CU</tspan></text>
<text x="1793.8" y="636.5" font-family="'Liberation Sans', sans-serif" font-size="32.70" textLength="88.8" lengthAdjust="spacingAndGlyphs" stroke="#fff" stroke-width="1.5" xml:space="preserve">RSOR</text>
<rect x="1774.3" y="686.5" width="123.9" height="114.0" fill="#000" rx="9" stroke="#343434" stroke-width="1.7"/>
<text x="1793.0" y="738.0" font-family="'Liberation Sans', sans-serif" font-size="32.70" textLength="87.0" lengthAdjust="spacingAndGlyphs" stroke="#fff" stroke-width="1.5" xml:space="preserve">MEAS</text>
<text x="1793.5" y="771.5" font-family="'Liberation Sans', sans-serif" font-size="32.70" textLength="80.5" lengthAdjust="spacingAndGlyphs" stroke="#fff" stroke-width="1.5" xml:space="preserve">URES</text>
<rect x="1774.3" y="821.5" width="123.9" height="114.0" fill="#000" rx="9" stroke="#343434" stroke-width="1.7"/>
<text x="1794.0" y="873.0" font-family="'Liberation Sans', sans-serif" font-size="32.70" textLength="84.0" lengthAdjust="spacingAndGlyphs" stroke="#fff" stroke-width="1.5" xml:space="preserve">SAVE</text>
<text x="1811.0" y="906.5" font-family="'Liberation Sans', sans-serif" font-size="32.70" textLength="52.0" lengthAdjust="spacingAndGlyphs" stroke="#fff" stroke-width="1.5" xml:space="preserve">PIC</text>
<rect x="1774.3" y="956.5" width="123.9" height="114.0" fill="#000" rx="9" stroke="#343434" stroke-width="1.7"/>
<text x="1794.0" y="1008.0" font-family="'Liberation Sans', sans-serif" font-size="32.70" textLength="84.0" lengthAdjust="spacingAndGlyphs" stroke="#fff" stroke-width="1.5" xml:space="preserve">SAVE</text>
<text x="1789.0" y="1041.5" font-family="'Liberation Sans', sans-serif" font-size="32.70" textLength="94.0" lengthAdjust="spacingAndGlyphs" stroke="#fff" stroke-width="1.5" xml:space="preserve">WAVE</text>
<rect x="8.0" y="959.3" width="341.3" height="55.2" fill="#1e1e1e" rx="7"/>
<rect x="13.7" y="964.8" width="46.8" height="43.5" fill="#ffff00"/>
<text x="27.5" y="997.1" font-family="'Liberation Mono', monospace" font-size="33.40" font-weight="bold" fill="#000" textLength="20.0" lengthAdjust="spacingAndGlyphs" xml:space="preserve">1</text>
<text y="997.3" font-family="'DejaVu Sans Mono', 'Liberation Mono', monospace" font-size="34.29" stroke="#fff" stroke-width="0.9" xml:space="preserve"><tspan x="75.5" textLength="98.5" lengthAdjust="spacingAndGlyphs">Vmax</tspan><tspan x="177.8">:</tspan></text>
<text x="203.5" y="999.6" font-family="'Liberation Mono', monospace" font-size="34.92" font-weight="bold" textLength="114.9" lengthAdjust="spacingAndGlyphs" xml:space="preserve">+11.9V</text>
<rect x="8.0" y="1020.2" width="341.3" height="55.2" fill="#1e1e1e" rx="7"/>
<rect x="13.7" y="1025.7" width="46.8" height="43.5" fill="#ffff00"/>
<text x="27.5" y="1058.0" font-family="'Liberation Mono', monospace" font-size="33.40" font-weight="bold" fill="#000" textLength="20.0" lengthAdjust="spacingAndGlyphs" xml:space="preserve">1</text>
<text y="1058.2" font-family="'DejaVu Sans Mono', 'Liberation Mono', monospace" font-size="34.29" stroke="#fff" stroke-width="0.9" xml:space="preserve"><tspan x="91.0" textLength="70.0" lengthAdjust="spacingAndGlyphs">VPP</tspan><tspan x="171.0" textLength="6.8" lengthAdjust="spacingAndGlyphs"> </tspan><tspan x="177.8">:</tspan></text>
<text x="203.5" y="1060.5" font-family="'Liberation Mono', monospace" font-size="34.92" font-weight="bold" textLength="95.8" lengthAdjust="spacingAndGlyphs" xml:space="preserve">12.5V</text>
<rect x="356.2" y="959.3" width="341.3" height="55.2" fill="#1e1e1e" rx="7"/>
<rect x="361.9" y="964.8" width="46.8" height="43.5" fill="#ffff00"/>
<text x="375.7" y="997.1" font-family="'Liberation Mono', monospace" font-size="33.40" font-weight="bold" fill="#000" textLength="20.0" lengthAdjust="spacingAndGlyphs" xml:space="preserve">1</text>
<text y="997.3" font-family="'DejaVu Sans Mono', 'Liberation Mono', monospace" font-size="34.29" stroke="#fff" stroke-width="0.9" xml:space="preserve"><tspan x="426.2" textLength="93.0" lengthAdjust="spacingAndGlyphs">Vmin</tspan><tspan x="526.0">:</tspan></text>
<text x="551.7" y="999.6" font-family="'Liberation Mono', monospace" font-size="34.92" font-weight="bold" textLength="114.9" lengthAdjust="spacingAndGlyphs" xml:space="preserve">-686mV</text>
<rect x="356.2" y="1020.2" width="341.3" height="55.2" fill="#1e1e1e" rx="7"/>
<rect x="361.9" y="1025.7" width="46.8" height="43.5" fill="#ffff00"/>
<text x="375.7" y="1058.0" font-family="'Liberation Mono', monospace" font-size="33.40" font-weight="bold" fill="#000" textLength="20.0" lengthAdjust="spacingAndGlyphs" xml:space="preserve">1</text>
<text y="1058.2" font-family="'DejaVu Sans Mono', 'Liberation Mono', monospace" font-size="34.29" stroke="#fff" stroke-width="0.9" xml:space="preserve"><tspan x="426.2" textLength="93.0" lengthAdjust="spacingAndGlyphs">Vrms</tspan><tspan x="526.0">:</tspan></text>
<text x="551.7" y="1060.5" font-family="'Liberation Mono', monospace" font-size="34.92" font-weight="bold" textLength="95.8" lengthAdjust="spacingAndGlyphs" xml:space="preserve">5.44V</text>
<rect x="704.3" y="959.3" width="341.3" height="55.2" fill="#1e1e1e" rx="7"/>
<rect x="710.0" y="964.8" width="46.8" height="43.5" fill="#ffff00"/>
<text x="723.8" y="997.1" font-family="'Liberation Mono', monospace" font-size="33.40" font-weight="bold" fill="#000" textLength="20.0" lengthAdjust="spacingAndGlyphs" xml:space="preserve">1</text>
<text y="997.3" font-family="'DejaVu Sans Mono', 'Liberation Mono', monospace" font-size="34.29" stroke="#fff" stroke-width="0.9" xml:space="preserve"><tspan x="762.8" textLength="112.5" lengthAdjust="spacingAndGlyphs">Duty+</tspan><tspan x="874.1">:</tspan></text>
<text x="899.8" y="999.6" font-family="'Liberation Mono', monospace" font-size="34.92" font-weight="bold" textLength="57.4" lengthAdjust="spacingAndGlyphs" xml:space="preserve">30%</text>
<rect x="704.3" y="1020.2" width="341.3" height="55.2" fill="#1e1e1e" rx="7"/>
<rect x="710.0" y="1025.7" width="46.8" height="43.5" fill="#ffff00"/>
<text x="723.8" y="1058.0" font-family="'Liberation Mono', monospace" font-size="33.40" font-weight="bold" fill="#000" textLength="20.0" lengthAdjust="spacingAndGlyphs" xml:space="preserve">1</text>
<text y="1058.2" font-family="'DejaVu Sans Mono', 'Liberation Mono', monospace" font-size="34.29" stroke="#fff" stroke-width="0.9" xml:space="preserve"><tspan x="780.8" textLength="84.5" lengthAdjust="spacingAndGlyphs">Freq</tspan><tspan x="874.1">:</tspan></text>
<text x="899.8" y="1060.5" font-family="'Liberation Mono', monospace" font-size="34.92" font-weight="bold" textLength="134.0" lengthAdjust="spacingAndGlyphs" xml:space="preserve">1.43MHz</text>
<rect x="1052.4" y="959.3" width="341.3" height="55.2" fill="#1e1e1e" rx="7"/>
<rect x="1058.1" y="964.8" width="46.8" height="43.5" fill="#00ffff"/>
<text x="1071.9" y="997.1" font-family="'Liberation Mono', monospace" font-size="33.40" font-weight="bold" fill="#000" textLength="20.0" lengthAdjust="spacingAndGlyphs" xml:space="preserve">2</text>
<text y="997.3" font-family="'DejaVu Sans Mono', 'Liberation Mono', monospace" font-size="34.29" stroke="#fff" stroke-width="0.9" xml:space="preserve"><tspan x="1119.9" textLength="98.5" lengthAdjust="spacingAndGlyphs">Vmax</tspan><tspan x="1222.2">:</tspan></text>
<text x="1247.9" y="999.6" font-family="'Liberation Mono', monospace" font-size="34.92" font-weight="bold" textLength="114.9" lengthAdjust="spacingAndGlyphs" xml:space="preserve">+14.7V</text>
<rect x="1052.4" y="1020.2" width="341.3" height="55.2" fill="#1e1e1e" rx="7"/>
<rect x="1058.1" y="1025.7" width="46.8" height="43.5" fill="#00ffff"/>
<text x="1071.9" y="1058.0" font-family="'Liberation Mono', monospace" font-size="33.40" font-weight="bold" fill="#000" textLength="20.0" lengthAdjust="spacingAndGlyphs" xml:space="preserve">2</text>
<text y="1058.2" font-family="'DejaVu Sans Mono', 'Liberation Mono', monospace" font-size="34.29" stroke="#fff" stroke-width="0.9" xml:space="preserve"><tspan x="1135.4" textLength="70.0" lengthAdjust="spacingAndGlyphs">VPP</tspan><tspan x="1215.4" textLength="6.8" lengthAdjust="spacingAndGlyphs"> </tspan><tspan x="1222.2">:</tspan></text>
<text x="1247.9" y="1060.5" font-family="'Liberation Mono', monospace" font-size="34.92" font-weight="bold" textLength="95.8" lengthAdjust="spacingAndGlyphs" xml:space="preserve">14.7V</text>
<rect x="1400.5" y="959.3" width="341.3" height="55.2" fill="#1e1e1e" rx="7"/>
<rect x="1406.2" y="964.8" width="46.8" height="43.5" fill="#00ffff"/>
<text x="1420.0" y="997.1" font-family="'Liberation Mono', monospace" font-size="33.40" font-weight="bold" fill="#000" textLength="20.0" lengthAdjust="spacingAndGlyphs" xml:space="preserve">2</text>
<text y="997.3" font-family="'DejaVu Sans Mono', 'Liberation Mono', monospace" font-size="34.29" stroke="#fff" stroke-width="0.9" xml:space="preserve"><tspan x="1459.0" textLength="112.5" lengthAdjust="spacingAndGlyphs">Duty+</tspan><tspan x="1570.3">:</tspan></text>
<text x="1596.0" y="999.6" font-family="'Liberation Mono', monospace" font-size="34.92" font-weight="bold" textLength="57.4" lengthAdjust="spacingAndGlyphs" xml:space="preserve">47%</text>
<rect x="1400.5" y="1020.2" width="341.3" height="55.2" fill="#1e1e1e" rx="7"/>
<rect x="1406.2" y="1025.7" width="46.8" height="43.5" fill="#00ffff"/>
<text x="1420.0" y="1058.0" font-family="'Liberation Mono', monospace" font-size="33.40" font-weight="bold" fill="#000" textLength="20.0" lengthAdjust="spacingAndGlyphs" xml:space="preserve">2</text>
<text y="1058.2" font-family="'DejaVu Sans Mono', 'Liberation Mono', monospace" font-size="34.29" stroke="#fff" stroke-width="0.9" xml:space="preserve"><tspan x="1477.0" textLength="84.5" lengthAdjust="spacingAndGlyphs">Freq</tspan><tspan x="1570.3">:</tspan></text>
<text x="1596.0" y="1060.5" font-family="'Liberation Mono', monospace" font-size="34.92" font-weight="bold" textLength="134.0" lengthAdjust="spacingAndGlyphs" xml:space="preserve">4.53MHz</text>
</g>
</g>
</svg>
</body></html>
